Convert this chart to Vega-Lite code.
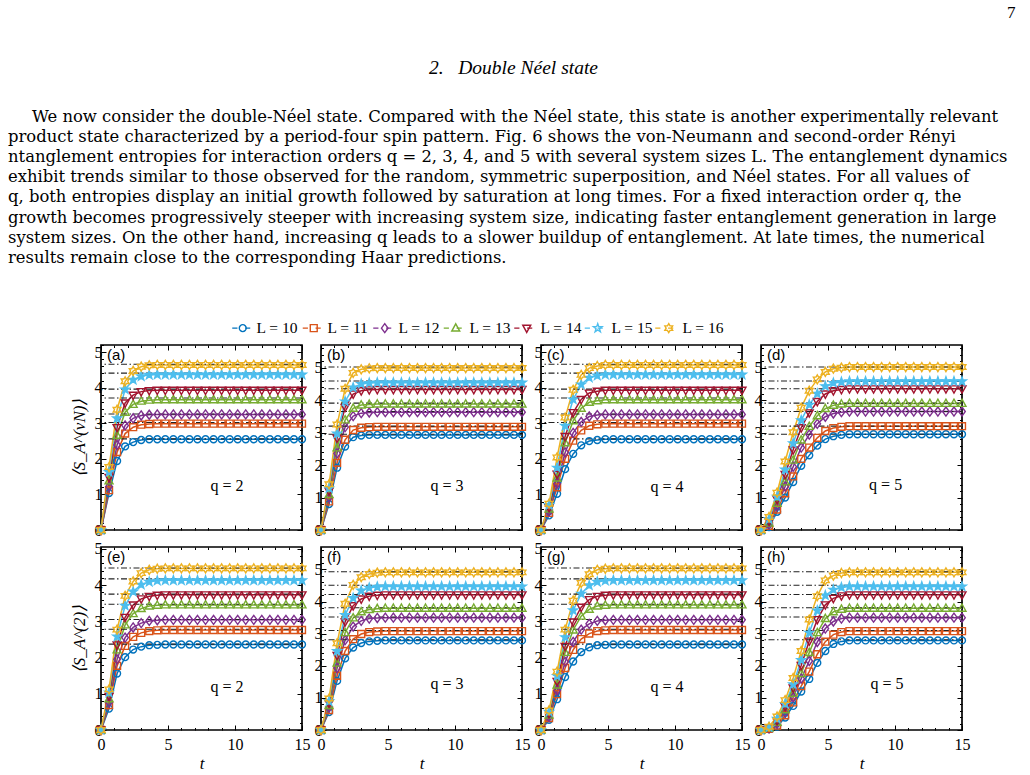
{
"$schema":"https://vega.github.io/schema/vega-lite/v6.json",
"background":"white",
"padding":{"left":8,"top":3,"right":0,"bottom":0},
"title":{"text":"7","anchor":"start","frame":"group","dx":906,"font":"Liberation Serif","fontSize":17,"fontWeight":"normal","color":"#000","offset":36},
"config":{
 "view":{"stroke":"#000","strokeWidth":1.7},
 "axis":{"domain":false,"grid":false,"labelFont":"Liberation Serif","labelFontSize":16,"labelColor":"#000","tickColor":"#000","tickWidth":1,"labelFlush":false,"labelOverlap":false,"titleFont":"Liberation Serif","titleFontSize":17,"titleFontStyle":"italic","titleFontWeight":"normal","titleColor":"#000"}
},
"datasets":{
"haar":[{"k":"ve","L":10,"H":2.56},{"k":"ve","L":11,"H":3.02},{"k":"ve","L":12,"H":3.26},{"k":"ve","L":13,"H":3.71},{"k":"ve","L":14,"H":3.96},{"k":"ve","L":15,"H":4.41},{"k":"ve","L":16,"H":4.66},
{"k":"vo","L":10,"H":2.95},{"k":"vo","L":11,"H":3.2},{"k":"vo","L":12,"H":3.65},{"k":"vo","L":13,"H":3.91},{"k":"vo","L":14,"H":4.35},{"k":"vo","L":15,"H":4.59},{"k":"vo","L":16,"H":5.02},
{"k":"re","L":10,"H":2.37},{"k":"re","L":11,"H":2.78},{"k":"re","L":12,"H":3.05},{"k":"re","L":13,"H":3.47},{"k":"re","L":14,"H":3.75},{"k":"re","L":15,"H":4.17},{"k":"re","L":16,"H":4.47},
{"k":"ro","L":10,"H":2.81},{"k":"ro","L":11,"H":3.1},{"k":"ro","L":12,"H":3.52},{"k":"ro","L":13,"H":3.81},{"k":"ro","L":14,"H":4.22},{"k":"ro","L":15,"H":4.51},{"k":"ro","L":16,"H":4.93}],
"a":[
{"L":10,"t":0,"S":0},{"L":10,"t":0.6,"S":1.04},{"L":10,"t":1.2,"S":1.94},{"L":10,"t":1.8,"S":2.35},{"L":10,"t":2.4,"S":2.47},{"L":10,"t":3,"S":2.53},{"L":10,"t":3.6,"S":2.55},{"L":10,"t":4.2,"S":2.55},{"L":10,"t":4.8,"S":2.55},{"L":10,"t":5.4,"S":2.55},{"L":10,"t":6,"S":2.55},{"L":10,"t":6.6,"S":2.55},{"L":10,"t":7.2,"S":2.55},{"L":10,"t":7.8,"S":2.55},{"L":10,"t":8.4,"S":2.55},{"L":10,"t":9,"S":2.55},{"L":10,"t":9.6,"S":2.55},{"L":10,"t":10.2,"S":2.55},{"L":10,"t":10.8,"S":2.55},{"L":10,"t":11.4,"S":2.55},{"L":10,"t":12,"S":2.55},{"L":10,"t":12.6,"S":2.55},{"L":10,"t":13.2,"S":2.55},{"L":10,"t":13.8,"S":2.55},{"L":10,"t":14.4,"S":2.55},{"L":10,"t":15,"S":2.55},
{"L":11,"t":0,"S":0},{"L":11,"t":0.6,"S":1.12},{"L":11,"t":1.2,"S":2.19},{"L":11,"t":1.8,"S":2.71},{"L":11,"t":2.4,"S":2.89},{"L":11,"t":3,"S":2.96},{"L":11,"t":3.6,"S":2.98},{"L":11,"t":4.2,"S":2.99},{"L":11,"t":4.8,"S":2.99},{"L":11,"t":5.4,"S":2.99},{"L":11,"t":6,"S":2.99},{"L":11,"t":6.6,"S":2.99},{"L":11,"t":7.2,"S":2.99},{"L":11,"t":7.8,"S":2.99},{"L":11,"t":8.4,"S":2.99},{"L":11,"t":9,"S":2.99},{"L":11,"t":9.6,"S":2.99},{"L":11,"t":10.2,"S":2.99},{"L":11,"t":10.8,"S":2.99},{"L":11,"t":11.4,"S":2.99},{"L":11,"t":12,"S":2.99},{"L":11,"t":12.6,"S":2.99},{"L":11,"t":13.2,"S":2.99},{"L":11,"t":13.8,"S":2.99},{"L":11,"t":14.4,"S":2.99},{"L":11,"t":15,"S":2.99},
{"L":12,"t":0,"S":0},{"L":12,"t":0.6,"S":1.22},{"L":12,"t":1.2,"S":2.39},{"L":12,"t":1.8,"S":2.94},{"L":12,"t":2.4,"S":3.14},{"L":12,"t":3,"S":3.22},{"L":12,"t":3.6,"S":3.24},{"L":12,"t":4.2,"S":3.25},{"L":12,"t":4.8,"S":3.25},{"L":12,"t":5.4,"S":3.25},{"L":12,"t":6,"S":3.25},{"L":12,"t":6.6,"S":3.25},{"L":12,"t":7.2,"S":3.25},{"L":12,"t":7.8,"S":3.25},{"L":12,"t":8.4,"S":3.25},{"L":12,"t":9,"S":3.25},{"L":12,"t":9.6,"S":3.25},{"L":12,"t":10.2,"S":3.25},{"L":12,"t":10.8,"S":3.25},{"L":12,"t":11.4,"S":3.25},{"L":12,"t":12,"S":3.25},{"L":12,"t":12.6,"S":3.25},{"L":12,"t":13.2,"S":3.25},{"L":12,"t":13.8,"S":3.25},{"L":12,"t":14.4,"S":3.25},{"L":12,"t":15,"S":3.25},
{"L":13,"t":0,"S":0},{"L":13,"t":0.6,"S":1.38},{"L":13,"t":1.2,"S":2.66},{"L":13,"t":1.8,"S":3.31},{"L":13,"t":2.4,"S":3.53},{"L":13,"t":3,"S":3.62},{"L":13,"t":3.6,"S":3.65},{"L":13,"t":4.2,"S":3.66},{"L":13,"t":4.8,"S":3.66},{"L":13,"t":5.4,"S":3.66},{"L":13,"t":6,"S":3.66},{"L":13,"t":6.6,"S":3.66},{"L":13,"t":7.2,"S":3.66},{"L":13,"t":7.8,"S":3.66},{"L":13,"t":8.4,"S":3.66},{"L":13,"t":9,"S":3.66},{"L":13,"t":9.6,"S":3.66},{"L":13,"t":10.2,"S":3.66},{"L":13,"t":10.8,"S":3.66},{"L":13,"t":11.4,"S":3.66},{"L":13,"t":12,"S":3.66},{"L":13,"t":12.6,"S":3.66},{"L":13,"t":13.2,"S":3.66},{"L":13,"t":13.8,"S":3.66},{"L":13,"t":14.4,"S":3.66},{"L":13,"t":15,"S":3.66},
{"L":14,"t":0,"S":0},{"L":14,"t":0.6,"S":1.48},{"L":14,"t":1.2,"S":2.88},{"L":14,"t":1.8,"S":3.57},{"L":14,"t":2.4,"S":3.79},{"L":14,"t":3,"S":3.89},{"L":14,"t":3.6,"S":3.92},{"L":14,"t":4.2,"S":3.93},{"L":14,"t":4.8,"S":3.93},{"L":14,"t":5.4,"S":3.93},{"L":14,"t":6,"S":3.93},{"L":14,"t":6.6,"S":3.93},{"L":14,"t":7.2,"S":3.93},{"L":14,"t":7.8,"S":3.93},{"L":14,"t":8.4,"S":3.93},{"L":14,"t":9,"S":3.93},{"L":14,"t":9.6,"S":3.93},{"L":14,"t":10.2,"S":3.93},{"L":14,"t":10.8,"S":3.93},{"L":14,"t":11.4,"S":3.93},{"L":14,"t":12,"S":3.93},{"L":14,"t":12.6,"S":3.93},{"L":14,"t":13.2,"S":3.93},{"L":14,"t":13.8,"S":3.93},{"L":14,"t":14.4,"S":3.93},{"L":14,"t":15,"S":3.93},
{"L":15,"t":0,"S":0},{"L":15,"t":0.6,"S":1.63},{"L":15,"t":1.2,"S":3.14},{"L":15,"t":1.8,"S":3.95},{"L":15,"t":2.4,"S":4.22},{"L":15,"t":3,"S":4.32},{"L":15,"t":3.6,"S":4.36},{"L":15,"t":4.2,"S":4.37},{"L":15,"t":4.8,"S":4.37},{"L":15,"t":5.4,"S":4.37},{"L":15,"t":6,"S":4.37},{"L":15,"t":6.6,"S":4.37},{"L":15,"t":7.2,"S":4.37},{"L":15,"t":7.8,"S":4.37},{"L":15,"t":8.4,"S":4.37},{"L":15,"t":9,"S":4.37},{"L":15,"t":9.6,"S":4.37},{"L":15,"t":10.2,"S":4.37},{"L":15,"t":10.8,"S":4.37},{"L":15,"t":11.4,"S":4.37},{"L":15,"t":12,"S":4.37},{"L":15,"t":12.6,"S":4.37},{"L":15,"t":13.2,"S":4.37},{"L":15,"t":13.8,"S":4.37},{"L":15,"t":14.4,"S":4.37},{"L":15,"t":15,"S":4.37},
{"L":16,"t":0,"S":0},{"L":16,"t":0.6,"S":1.77},{"L":16,"t":1.2,"S":3.38},{"L":16,"t":1.8,"S":4.18},{"L":16,"t":2.4,"S":4.47},{"L":16,"t":3,"S":4.59},{"L":16,"t":3.6,"S":4.63},{"L":16,"t":4.2,"S":4.64},{"L":16,"t":4.8,"S":4.64},{"L":16,"t":5.4,"S":4.64},{"L":16,"t":6,"S":4.64},{"L":16,"t":6.6,"S":4.64},{"L":16,"t":7.2,"S":4.64},{"L":16,"t":7.8,"S":4.64},{"L":16,"t":8.4,"S":4.64},{"L":16,"t":9,"S":4.64},{"L":16,"t":9.6,"S":4.64},{"L":16,"t":10.2,"S":4.64},{"L":16,"t":10.8,"S":4.64},{"L":16,"t":11.4,"S":4.64},{"L":16,"t":12,"S":4.64},{"L":16,"t":12.6,"S":4.64},{"L":16,"t":13.2,"S":4.64},{"L":16,"t":13.8,"S":4.64},{"L":16,"t":14.4,"S":4.64},{"L":16,"t":15,"S":4.64}],
"b":[
{"L":10,"t":0,"S":0},{"L":10,"t":0.6,"S":0.8},{"L":10,"t":1.2,"S":1.92},{"L":10,"t":1.8,"S":2.57},{"L":10,"t":2.4,"S":2.86},{"L":10,"t":3,"S":2.91},{"L":10,"t":3.6,"S":2.93},{"L":10,"t":4.2,"S":2.93},{"L":10,"t":4.8,"S":2.93},{"L":10,"t":5.4,"S":2.93},{"L":10,"t":6,"S":2.93},{"L":10,"t":6.6,"S":2.93},{"L":10,"t":7.2,"S":2.93},{"L":10,"t":7.8,"S":2.93},{"L":10,"t":8.4,"S":2.93},{"L":10,"t":9,"S":2.93},{"L":10,"t":9.6,"S":2.93},{"L":10,"t":10.2,"S":2.93},{"L":10,"t":10.8,"S":2.93},{"L":10,"t":11.4,"S":2.93},{"L":10,"t":12,"S":2.93},{"L":10,"t":12.6,"S":2.93},{"L":10,"t":13.2,"S":2.93},{"L":10,"t":13.8,"S":2.93},{"L":10,"t":14.4,"S":2.93},{"L":10,"t":15,"S":2.93},
{"L":11,"t":0,"S":0},{"L":11,"t":0.6,"S":0.88},{"L":11,"t":1.2,"S":2.07},{"L":11,"t":1.8,"S":2.78},{"L":11,"t":2.4,"S":3.08},{"L":11,"t":3,"S":3.15},{"L":11,"t":3.6,"S":3.17},{"L":11,"t":4.2,"S":3.18},{"L":11,"t":4.8,"S":3.18},{"L":11,"t":5.4,"S":3.18},{"L":11,"t":6,"S":3.18},{"L":11,"t":6.6,"S":3.18},{"L":11,"t":7.2,"S":3.18},{"L":11,"t":7.8,"S":3.18},{"L":11,"t":8.4,"S":3.18},{"L":11,"t":9,"S":3.18},{"L":11,"t":9.6,"S":3.18},{"L":11,"t":10.2,"S":3.18},{"L":11,"t":10.8,"S":3.18},{"L":11,"t":11.4,"S":3.18},{"L":11,"t":12,"S":3.18},{"L":11,"t":12.6,"S":3.18},{"L":11,"t":13.2,"S":3.18},{"L":11,"t":13.8,"S":3.18},{"L":11,"t":14.4,"S":3.18},{"L":11,"t":15,"S":3.18},
{"L":12,"t":0,"S":0},{"L":12,"t":0.6,"S":1.0},{"L":12,"t":1.2,"S":2.36},{"L":12,"t":1.8,"S":3.17},{"L":12,"t":2.4,"S":3.51},{"L":12,"t":3,"S":3.6},{"L":12,"t":3.6,"S":3.62},{"L":12,"t":4.2,"S":3.63},{"L":12,"t":4.8,"S":3.63},{"L":12,"t":5.4,"S":3.63},{"L":12,"t":6,"S":3.63},{"L":12,"t":6.6,"S":3.63},{"L":12,"t":7.2,"S":3.63},{"L":12,"t":7.8,"S":3.63},{"L":12,"t":8.4,"S":3.63},{"L":12,"t":9,"S":3.63},{"L":12,"t":9.6,"S":3.63},{"L":12,"t":10.2,"S":3.63},{"L":12,"t":10.8,"S":3.63},{"L":12,"t":11.4,"S":3.63},{"L":12,"t":12,"S":3.63},{"L":12,"t":12.6,"S":3.63},{"L":12,"t":13.2,"S":3.63},{"L":12,"t":13.8,"S":3.63},{"L":12,"t":14.4,"S":3.63},{"L":12,"t":15,"S":3.63},
{"L":13,"t":0,"S":0},{"L":13,"t":0.6,"S":1.09},{"L":13,"t":1.2,"S":2.53},{"L":13,"t":1.8,"S":3.39},{"L":13,"t":2.4,"S":3.75},{"L":13,"t":3,"S":3.85},{"L":13,"t":3.6,"S":3.87},{"L":13,"t":4.2,"S":3.88},{"L":13,"t":4.8,"S":3.88},{"L":13,"t":5.4,"S":3.88},{"L":13,"t":6,"S":3.88},{"L":13,"t":6.6,"S":3.88},{"L":13,"t":7.2,"S":3.88},{"L":13,"t":7.8,"S":3.88},{"L":13,"t":8.4,"S":3.88},{"L":13,"t":9,"S":3.88},{"L":13,"t":9.6,"S":3.88},{"L":13,"t":10.2,"S":3.88},{"L":13,"t":10.8,"S":3.88},{"L":13,"t":11.4,"S":3.88},{"L":13,"t":12,"S":3.88},{"L":13,"t":12.6,"S":3.88},{"L":13,"t":13.2,"S":3.88},{"L":13,"t":13.8,"S":3.88},{"L":13,"t":14.4,"S":3.88},{"L":13,"t":15,"S":3.88},
{"L":14,"t":0,"S":0},{"L":14,"t":0.6,"S":1.2},{"L":14,"t":1.2,"S":2.83},{"L":14,"t":1.8,"S":3.78},{"L":14,"t":2.4,"S":4.19},{"L":14,"t":3,"S":4.29},{"L":14,"t":3.6,"S":4.32},{"L":14,"t":4.2,"S":4.33},{"L":14,"t":4.8,"S":4.33},{"L":14,"t":5.4,"S":4.33},{"L":14,"t":6,"S":4.33},{"L":14,"t":6.6,"S":4.33},{"L":14,"t":7.2,"S":4.33},{"L":14,"t":7.8,"S":4.33},{"L":14,"t":8.4,"S":4.33},{"L":14,"t":9,"S":4.33},{"L":14,"t":9.6,"S":4.33},{"L":14,"t":10.2,"S":4.33},{"L":14,"t":10.8,"S":4.33},{"L":14,"t":11.4,"S":4.33},{"L":14,"t":12,"S":4.33},{"L":14,"t":12.6,"S":4.33},{"L":14,"t":13.2,"S":4.33},{"L":14,"t":13.8,"S":4.33},{"L":14,"t":14.4,"S":4.33},{"L":14,"t":15,"S":4.33},
{"L":15,"t":0,"S":0},{"L":15,"t":0.6,"S":1.28},{"L":15,"t":1.2,"S":2.97},{"L":15,"t":1.8,"S":3.96},{"L":15,"t":2.4,"S":4.39},{"L":15,"t":3,"S":4.5},{"L":15,"t":3.6,"S":4.53},{"L":15,"t":4.2,"S":4.54},{"L":15,"t":4.8,"S":4.54},{"L":15,"t":5.4,"S":4.54},{"L":15,"t":6,"S":4.54},{"L":15,"t":6.6,"S":4.54},{"L":15,"t":7.2,"S":4.54},{"L":15,"t":7.8,"S":4.54},{"L":15,"t":8.4,"S":4.54},{"L":15,"t":9,"S":4.54},{"L":15,"t":9.6,"S":4.54},{"L":15,"t":10.2,"S":4.54},{"L":15,"t":10.8,"S":4.54},{"L":15,"t":11.4,"S":4.54},{"L":15,"t":12,"S":4.54},{"L":15,"t":12.6,"S":4.54},{"L":15,"t":13.2,"S":4.54},{"L":15,"t":13.8,"S":4.54},{"L":15,"t":14.4,"S":4.54},{"L":15,"t":15,"S":4.54},
{"L":16,"t":0,"S":0},{"L":16,"t":0.6,"S":1.41},{"L":16,"t":1.2,"S":3.25},{"L":16,"t":1.8,"S":4.35},{"L":16,"t":2.4,"S":4.84},{"L":16,"t":3,"S":4.95},{"L":16,"t":3.6,"S":4.98},{"L":16,"t":4.2,"S":4.99},{"L":16,"t":4.8,"S":4.99},{"L":16,"t":5.4,"S":4.99},{"L":16,"t":6,"S":4.99},{"L":16,"t":6.6,"S":4.99},{"L":16,"t":7.2,"S":4.99},{"L":16,"t":7.8,"S":4.99},{"L":16,"t":8.4,"S":4.99},{"L":16,"t":9,"S":4.99},{"L":16,"t":9.6,"S":4.99},{"L":16,"t":10.2,"S":4.99},{"L":16,"t":10.8,"S":4.99},{"L":16,"t":11.4,"S":4.99},{"L":16,"t":12,"S":4.99},{"L":16,"t":12.6,"S":4.99},{"L":16,"t":13.2,"S":4.99},{"L":16,"t":13.8,"S":4.99},{"L":16,"t":14.4,"S":4.99},{"L":16,"t":15,"S":4.99}],
"c":[
{"L":10,"t":0,"S":0},{"L":10,"t":0.6,"S":0.41},{"L":10,"t":1.2,"S":1.02},{"L":10,"t":1.8,"S":1.71},{"L":10,"t":2.4,"S":2.14},{"L":10,"t":3,"S":2.38},{"L":10,"t":3.6,"S":2.5},{"L":10,"t":4.2,"S":2.53},{"L":10,"t":4.8,"S":2.55},{"L":10,"t":5.4,"S":2.55},{"L":10,"t":6,"S":2.55},{"L":10,"t":6.6,"S":2.55},{"L":10,"t":7.2,"S":2.55},{"L":10,"t":7.8,"S":2.55},{"L":10,"t":8.4,"S":2.55},{"L":10,"t":9,"S":2.55},{"L":10,"t":9.6,"S":2.55},{"L":10,"t":10.2,"S":2.55},{"L":10,"t":10.8,"S":2.55},{"L":10,"t":11.4,"S":2.55},{"L":10,"t":12,"S":2.55},{"L":10,"t":12.6,"S":2.55},{"L":10,"t":13.2,"S":2.55},{"L":10,"t":13.8,"S":2.55},{"L":10,"t":14.4,"S":2.55},{"L":10,"t":15,"S":2.55},
{"L":11,"t":0,"S":0},{"L":11,"t":0.6,"S":0.48},{"L":11,"t":1.2,"S":1.2},{"L":11,"t":1.8,"S":2.0},{"L":11,"t":2.4,"S":2.51},{"L":11,"t":3,"S":2.8},{"L":11,"t":3.6,"S":2.93},{"L":11,"t":4.2,"S":2.97},{"L":11,"t":4.8,"S":2.99},{"L":11,"t":5.4,"S":2.99},{"L":11,"t":6,"S":2.99},{"L":11,"t":6.6,"S":2.99},{"L":11,"t":7.2,"S":2.99},{"L":11,"t":7.8,"S":2.99},{"L":11,"t":8.4,"S":2.99},{"L":11,"t":9,"S":2.99},{"L":11,"t":9.6,"S":2.99},{"L":11,"t":10.2,"S":2.99},{"L":11,"t":10.8,"S":2.99},{"L":11,"t":11.4,"S":2.99},{"L":11,"t":12,"S":2.99},{"L":11,"t":12.6,"S":2.99},{"L":11,"t":13.2,"S":2.99},{"L":11,"t":13.8,"S":2.99},{"L":11,"t":14.4,"S":2.99},{"L":11,"t":15,"S":2.99},
{"L":12,"t":0,"S":0},{"L":12,"t":0.6,"S":0.52},{"L":12,"t":1.2,"S":1.3},{"L":12,"t":1.8,"S":2.18},{"L":12,"t":2.4,"S":2.73},{"L":12,"t":3,"S":3.04},{"L":12,"t":3.6,"S":3.19},{"L":12,"t":4.2,"S":3.23},{"L":12,"t":4.8,"S":3.25},{"L":12,"t":5.4,"S":3.25},{"L":12,"t":6,"S":3.25},{"L":12,"t":6.6,"S":3.25},{"L":12,"t":7.2,"S":3.25},{"L":12,"t":7.8,"S":3.25},{"L":12,"t":8.4,"S":3.25},{"L":12,"t":9,"S":3.25},{"L":12,"t":9.6,"S":3.25},{"L":12,"t":10.2,"S":3.25},{"L":12,"t":10.8,"S":3.25},{"L":12,"t":11.4,"S":3.25},{"L":12,"t":12,"S":3.25},{"L":12,"t":12.6,"S":3.25},{"L":12,"t":13.2,"S":3.25},{"L":12,"t":13.8,"S":3.25},{"L":12,"t":14.4,"S":3.25},{"L":12,"t":15,"S":3.25},
{"L":13,"t":0,"S":0},{"L":13,"t":0.6,"S":0.59},{"L":13,"t":1.2,"S":1.46},{"L":13,"t":1.8,"S":2.45},{"L":13,"t":2.4,"S":3.07},{"L":13,"t":3,"S":3.42},{"L":13,"t":3.6,"S":3.59},{"L":13,"t":4.2,"S":3.63},{"L":13,"t":4.8,"S":3.66},{"L":13,"t":5.4,"S":3.66},{"L":13,"t":6,"S":3.66},{"L":13,"t":6.6,"S":3.66},{"L":13,"t":7.2,"S":3.66},{"L":13,"t":7.8,"S":3.66},{"L":13,"t":8.4,"S":3.66},{"L":13,"t":9,"S":3.66},{"L":13,"t":9.6,"S":3.66},{"L":13,"t":10.2,"S":3.66},{"L":13,"t":10.8,"S":3.66},{"L":13,"t":11.4,"S":3.66},{"L":13,"t":12,"S":3.66},{"L":13,"t":12.6,"S":3.66},{"L":13,"t":13.2,"S":3.66},{"L":13,"t":13.8,"S":3.66},{"L":13,"t":14.4,"S":3.66},{"L":13,"t":15,"S":3.66},
{"L":14,"t":0,"S":0},{"L":14,"t":0.6,"S":0.63},{"L":14,"t":1.2,"S":1.57},{"L":14,"t":1.8,"S":2.63},{"L":14,"t":2.4,"S":3.3},{"L":14,"t":3,"S":3.67},{"L":14,"t":3.6,"S":3.85},{"L":14,"t":4.2,"S":3.9},{"L":14,"t":4.8,"S":3.93},{"L":14,"t":5.4,"S":3.93},{"L":14,"t":6,"S":3.93},{"L":14,"t":6.6,"S":3.93},{"L":14,"t":7.2,"S":3.93},{"L":14,"t":7.8,"S":3.93},{"L":14,"t":8.4,"S":3.93},{"L":14,"t":9,"S":3.93},{"L":14,"t":9.6,"S":3.93},{"L":14,"t":10.2,"S":3.93},{"L":14,"t":10.8,"S":3.93},{"L":14,"t":11.4,"S":3.93},{"L":14,"t":12,"S":3.93},{"L":14,"t":12.6,"S":3.93},{"L":14,"t":13.2,"S":3.93},{"L":14,"t":13.8,"S":3.93},{"L":14,"t":14.4,"S":3.93},{"L":14,"t":15,"S":3.93},
{"L":15,"t":0,"S":0},{"L":15,"t":0.6,"S":0.7},{"L":15,"t":1.2,"S":1.75},{"L":15,"t":1.8,"S":2.93},{"L":15,"t":2.4,"S":3.67},{"L":15,"t":3,"S":4.09},{"L":15,"t":3.6,"S":4.28},{"L":15,"t":4.2,"S":4.34},{"L":15,"t":4.8,"S":4.37},{"L":15,"t":5.4,"S":4.37},{"L":15,"t":6,"S":4.37},{"L":15,"t":6.6,"S":4.37},{"L":15,"t":7.2,"S":4.37},{"L":15,"t":7.8,"S":4.37},{"L":15,"t":8.4,"S":4.37},{"L":15,"t":9,"S":4.37},{"L":15,"t":9.6,"S":4.37},{"L":15,"t":10.2,"S":4.37},{"L":15,"t":10.8,"S":4.37},{"L":15,"t":11.4,"S":4.37},{"L":15,"t":12,"S":4.37},{"L":15,"t":12.6,"S":4.37},{"L":15,"t":13.2,"S":4.37},{"L":15,"t":13.8,"S":4.37},{"L":15,"t":14.4,"S":4.37},{"L":15,"t":15,"S":4.37},
{"L":16,"t":0,"S":0},{"L":16,"t":0.6,"S":0.74},{"L":16,"t":1.2,"S":2.04},{"L":16,"t":1.8,"S":3.16},{"L":16,"t":2.4,"S":3.94},{"L":16,"t":3,"S":4.36},{"L":16,"t":3.6,"S":4.55},{"L":16,"t":4.2,"S":4.61},{"L":16,"t":4.8,"S":4.64},{"L":16,"t":5.4,"S":4.64},{"L":16,"t":6,"S":4.64},{"L":16,"t":6.6,"S":4.64},{"L":16,"t":7.2,"S":4.64},{"L":16,"t":7.8,"S":4.64},{"L":16,"t":8.4,"S":4.64},{"L":16,"t":9,"S":4.64},{"L":16,"t":9.6,"S":4.64},{"L":16,"t":10.2,"S":4.64},{"L":16,"t":10.8,"S":4.64},{"L":16,"t":11.4,"S":4.64},{"L":16,"t":12,"S":4.64},{"L":16,"t":12.6,"S":4.64},{"L":16,"t":13.2,"S":4.64},{"L":16,"t":13.8,"S":4.64},{"L":16,"t":14.4,"S":4.64},{"L":16,"t":15,"S":4.64}],
"d":[
{"L":10,"t":0,"S":0},{"L":10,"t":0.6,"S":0.09},{"L":10,"t":1.2,"S":0.56},{"L":10,"t":1.8,"S":1.0},{"L":10,"t":2.4,"S":1.48},{"L":10,"t":3,"S":1.98},{"L":10,"t":3.6,"S":2.3},{"L":10,"t":4.2,"S":2.6},{"L":10,"t":4.8,"S":2.8},{"L":10,"t":5.4,"S":2.89},{"L":10,"t":6,"S":2.93},{"L":10,"t":6.6,"S":2.95},{"L":10,"t":7.2,"S":2.95},{"L":10,"t":7.8,"S":2.95},{"L":10,"t":8.4,"S":2.95},{"L":10,"t":9,"S":2.95},{"L":10,"t":9.6,"S":2.95},{"L":10,"t":10.2,"S":2.95},{"L":10,"t":10.8,"S":2.95},{"L":10,"t":11.4,"S":2.95},{"L":10,"t":12,"S":2.95},{"L":10,"t":12.6,"S":2.95},{"L":10,"t":13.2,"S":2.95},{"L":10,"t":13.8,"S":2.95},{"L":10,"t":14.4,"S":2.95},{"L":10,"t":15,"S":2.95},
{"L":11,"t":0,"S":0},{"L":11,"t":0.6,"S":0.13},{"L":11,"t":1.2,"S":0.63},{"L":11,"t":1.8,"S":1.13},{"L":11,"t":2.4,"S":1.65},{"L":11,"t":3,"S":2.19},{"L":11,"t":3.6,"S":2.54},{"L":11,"t":4.2,"S":2.84},{"L":11,"t":4.8,"S":3.05},{"L":11,"t":5.4,"S":3.14},{"L":11,"t":6,"S":3.18},{"L":11,"t":6.6,"S":3.2},{"L":11,"t":7.2,"S":3.2},{"L":11,"t":7.8,"S":3.2},{"L":11,"t":8.4,"S":3.2},{"L":11,"t":9,"S":3.2},{"L":11,"t":9.6,"S":3.2},{"L":11,"t":10.2,"S":3.2},{"L":11,"t":10.8,"S":3.2},{"L":11,"t":11.4,"S":3.2},{"L":11,"t":12,"S":3.2},{"L":11,"t":12.6,"S":3.2},{"L":11,"t":13.2,"S":3.2},{"L":11,"t":13.8,"S":3.2},{"L":11,"t":14.4,"S":3.2},{"L":11,"t":15,"S":3.2},
{"L":12,"t":0,"S":0},{"L":12,"t":0.6,"S":0.17},{"L":12,"t":1.2,"S":0.74},{"L":12,"t":1.8,"S":1.34},{"L":12,"t":2.4,"S":1.95},{"L":12,"t":3,"S":2.54},{"L":12,"t":3.6,"S":2.94},{"L":12,"t":4.2,"S":3.27},{"L":12,"t":4.8,"S":3.49},{"L":12,"t":5.4,"S":3.59},{"L":12,"t":6,"S":3.63},{"L":12,"t":6.6,"S":3.65},{"L":12,"t":7.2,"S":3.65},{"L":12,"t":7.8,"S":3.65},{"L":12,"t":8.4,"S":3.65},{"L":12,"t":9,"S":3.65},{"L":12,"t":9.6,"S":3.65},{"L":12,"t":10.2,"S":3.65},{"L":12,"t":10.8,"S":3.65},{"L":12,"t":11.4,"S":3.65},{"L":12,"t":12,"S":3.65},{"L":12,"t":12.6,"S":3.65},{"L":12,"t":13.2,"S":3.65},{"L":12,"t":13.8,"S":3.65},{"L":12,"t":14.4,"S":3.65},{"L":12,"t":15,"S":3.65},
{"L":13,"t":0,"S":0},{"L":13,"t":0.6,"S":0.21},{"L":13,"t":1.2,"S":0.82},{"L":13,"t":1.8,"S":1.48},{"L":13,"t":2.4,"S":2.15},{"L":13,"t":3,"S":2.77},{"L":13,"t":3.6,"S":3.19},{"L":13,"t":4.2,"S":3.52},{"L":13,"t":4.8,"S":3.74},{"L":13,"t":5.4,"S":3.84},{"L":13,"t":6,"S":3.88},{"L":13,"t":6.6,"S":3.9},{"L":13,"t":7.2,"S":3.9},{"L":13,"t":7.8,"S":3.9},{"L":13,"t":8.4,"S":3.9},{"L":13,"t":9,"S":3.9},{"L":13,"t":9.6,"S":3.9},{"L":13,"t":10.2,"S":3.9},{"L":13,"t":10.8,"S":3.9},{"L":13,"t":11.4,"S":3.9},{"L":13,"t":12,"S":3.9},{"L":13,"t":12.6,"S":3.9},{"L":13,"t":13.2,"S":3.9},{"L":13,"t":13.8,"S":3.9},{"L":13,"t":14.4,"S":3.9},{"L":13,"t":15,"S":3.9},
{"L":14,"t":0,"S":0},{"L":14,"t":0.6,"S":0.27},{"L":14,"t":1.2,"S":0.94},{"L":14,"t":1.8,"S":1.71},{"L":14,"t":2.4,"S":2.47},{"L":14,"t":3,"S":3.15},{"L":14,"t":3.6,"S":3.61},{"L":14,"t":4.2,"S":3.96},{"L":14,"t":4.8,"S":4.19},{"L":14,"t":5.4,"S":4.29},{"L":14,"t":6,"S":4.33},{"L":14,"t":6.6,"S":4.35},{"L":14,"t":7.2,"S":4.35},{"L":14,"t":7.8,"S":4.35},{"L":14,"t":8.4,"S":4.35},{"L":14,"t":9,"S":4.35},{"L":14,"t":9.6,"S":4.35},{"L":14,"t":10.2,"S":4.35},{"L":14,"t":10.8,"S":4.35},{"L":14,"t":11.4,"S":4.35},{"L":14,"t":12,"S":4.35},{"L":14,"t":12.6,"S":4.35},{"L":14,"t":13.2,"S":4.35},{"L":14,"t":13.8,"S":4.35},{"L":14,"t":14.4,"S":4.35},{"L":14,"t":15,"S":4.35},
{"L":15,"t":0,"S":0},{"L":15,"t":0.6,"S":0.33},{"L":15,"t":1.2,"S":1.02},{"L":15,"t":1.8,"S":1.86},{"L":15,"t":2.4,"S":2.67},{"L":15,"t":3,"S":3.38},{"L":15,"t":3.6,"S":3.86},{"L":15,"t":4.2,"S":4.2},{"L":15,"t":4.8,"S":4.43},{"L":15,"t":5.4,"S":4.53},{"L":15,"t":6,"S":4.56},{"L":15,"t":6.6,"S":4.58},{"L":15,"t":7.2,"S":4.58},{"L":15,"t":7.8,"S":4.58},{"L":15,"t":8.4,"S":4.58},{"L":15,"t":9,"S":4.58},{"L":15,"t":9.6,"S":4.58},{"L":15,"t":10.2,"S":4.58},{"L":15,"t":10.8,"S":4.58},{"L":15,"t":11.4,"S":4.58},{"L":15,"t":12,"S":4.58},{"L":15,"t":12.6,"S":4.58},{"L":15,"t":13.2,"S":4.58},{"L":15,"t":13.8,"S":4.58},{"L":15,"t":14.4,"S":4.58},{"L":15,"t":15,"S":4.58},
{"L":16,"t":0,"S":0},{"L":16,"t":0.6,"S":0.4},{"L":16,"t":1.2,"S":1.15},{"L":16,"t":1.8,"S":2.11},{"L":16,"t":2.4,"S":3.01},{"L":16,"t":3,"S":3.77},{"L":16,"t":3.6,"S":4.29},{"L":16,"t":4.2,"S":4.64},{"L":16,"t":4.8,"S":4.87},{"L":16,"t":5.4,"S":4.97},{"L":16,"t":6,"S":5.0},{"L":16,"t":6.6,"S":5.02},{"L":16,"t":7.2,"S":5.02},{"L":16,"t":7.8,"S":5.02},{"L":16,"t":8.4,"S":5.02},{"L":16,"t":9,"S":5.02},{"L":16,"t":9.6,"S":5.02},{"L":16,"t":10.2,"S":5.02},{"L":16,"t":10.8,"S":5.02},{"L":16,"t":11.4,"S":5.02},{"L":16,"t":12,"S":5.02},{"L":16,"t":12.6,"S":5.02},{"L":16,"t":13.2,"S":5.02},{"L":16,"t":13.8,"S":5.02},{"L":16,"t":14.4,"S":5.02},{"L":16,"t":15,"S":5.02}],
"e":[
{"L":10,"t":0,"S":0},{"L":10,"t":0.6,"S":0.59},{"L":10,"t":1.2,"S":1.56},{"L":10,"t":1.8,"S":2.01},{"L":10,"t":2.4,"S":2.22},{"L":10,"t":3,"S":2.3},{"L":10,"t":3.6,"S":2.34},{"L":10,"t":4.2,"S":2.35},{"L":10,"t":4.8,"S":2.36},{"L":10,"t":5.4,"S":2.36},{"L":10,"t":6,"S":2.36},{"L":10,"t":6.6,"S":2.36},{"L":10,"t":7.2,"S":2.36},{"L":10,"t":7.8,"S":2.36},{"L":10,"t":8.4,"S":2.36},{"L":10,"t":9,"S":2.36},{"L":10,"t":9.6,"S":2.36},{"L":10,"t":10.2,"S":2.36},{"L":10,"t":10.8,"S":2.36},{"L":10,"t":11.4,"S":2.36},{"L":10,"t":12,"S":2.36},{"L":10,"t":12.6,"S":2.36},{"L":10,"t":13.2,"S":2.36},{"L":10,"t":13.8,"S":2.36},{"L":10,"t":14.4,"S":2.36},{"L":10,"t":15,"S":2.36},
{"L":11,"t":0,"S":0},{"L":11,"t":0.6,"S":0.69},{"L":11,"t":1.2,"S":1.77},{"L":11,"t":1.8,"S":2.32},{"L":11,"t":2.4,"S":2.57},{"L":11,"t":3,"S":2.68},{"L":11,"t":3.6,"S":2.73},{"L":11,"t":4.2,"S":2.75},{"L":11,"t":4.8,"S":2.76},{"L":11,"t":5.4,"S":2.76},{"L":11,"t":6,"S":2.76},{"L":11,"t":6.6,"S":2.76},{"L":11,"t":7.2,"S":2.76},{"L":11,"t":7.8,"S":2.76},{"L":11,"t":8.4,"S":2.76},{"L":11,"t":9,"S":2.76},{"L":11,"t":9.6,"S":2.76},{"L":11,"t":10.2,"S":2.76},{"L":11,"t":10.8,"S":2.76},{"L":11,"t":11.4,"S":2.76},{"L":11,"t":12,"S":2.76},{"L":11,"t":12.6,"S":2.76},{"L":11,"t":13.2,"S":2.76},{"L":11,"t":13.8,"S":2.76},{"L":11,"t":14.4,"S":2.76},{"L":11,"t":15,"S":2.76},
{"L":12,"t":0,"S":0},{"L":12,"t":0.6,"S":0.76},{"L":12,"t":1.2,"S":1.95},{"L":12,"t":1.8,"S":2.55},{"L":12,"t":2.4,"S":2.83},{"L":12,"t":3,"S":2.95},{"L":12,"t":3.6,"S":3.01},{"L":12,"t":4.2,"S":3.03},{"L":12,"t":4.8,"S":3.04},{"L":12,"t":5.4,"S":3.04},{"L":12,"t":6,"S":3.04},{"L":12,"t":6.6,"S":3.04},{"L":12,"t":7.2,"S":3.04},{"L":12,"t":7.8,"S":3.04},{"L":12,"t":8.4,"S":3.04},{"L":12,"t":9,"S":3.04},{"L":12,"t":9.6,"S":3.04},{"L":12,"t":10.2,"S":3.04},{"L":12,"t":10.8,"S":3.04},{"L":12,"t":11.4,"S":3.04},{"L":12,"t":12,"S":3.04},{"L":12,"t":12.6,"S":3.04},{"L":12,"t":13.2,"S":3.04},{"L":12,"t":13.8,"S":3.04},{"L":12,"t":14.4,"S":3.04},{"L":12,"t":15,"S":3.04},
{"L":13,"t":0,"S":0},{"L":13,"t":0.6,"S":0.86},{"L":13,"t":1.2,"S":2.21},{"L":13,"t":1.8,"S":2.9},{"L":13,"t":2.4,"S":3.21},{"L":13,"t":3,"S":3.35},{"L":13,"t":3.6,"S":3.42},{"L":13,"t":4.2,"S":3.44},{"L":13,"t":4.8,"S":3.45},{"L":13,"t":5.4,"S":3.45},{"L":13,"t":6,"S":3.45},{"L":13,"t":6.6,"S":3.45},{"L":13,"t":7.2,"S":3.45},{"L":13,"t":7.8,"S":3.45},{"L":13,"t":8.4,"S":3.45},{"L":13,"t":9,"S":3.45},{"L":13,"t":9.6,"S":3.45},{"L":13,"t":10.2,"S":3.45},{"L":13,"t":10.8,"S":3.45},{"L":13,"t":11.4,"S":3.45},{"L":13,"t":12,"S":3.45},{"L":13,"t":12.6,"S":3.45},{"L":13,"t":13.2,"S":3.45},{"L":13,"t":13.8,"S":3.45},{"L":13,"t":14.4,"S":3.45},{"L":13,"t":15,"S":3.45},
{"L":14,"t":0,"S":0},{"L":14,"t":0.6,"S":0.93},{"L":14,"t":1.2,"S":2.35},{"L":14,"t":1.8,"S":3.11},{"L":14,"t":2.4,"S":3.45},{"L":14,"t":3,"S":3.62},{"L":14,"t":3.6,"S":3.69},{"L":14,"t":4.2,"S":3.72},{"L":14,"t":4.8,"S":3.73},{"L":14,"t":5.4,"S":3.73},{"L":14,"t":6,"S":3.73},{"L":14,"t":6.6,"S":3.73},{"L":14,"t":7.2,"S":3.73},{"L":14,"t":7.8,"S":3.73},{"L":14,"t":8.4,"S":3.73},{"L":14,"t":9,"S":3.73},{"L":14,"t":9.6,"S":3.73},{"L":14,"t":10.2,"S":3.73},{"L":14,"t":10.8,"S":3.73},{"L":14,"t":11.4,"S":3.73},{"L":14,"t":12,"S":3.73},{"L":14,"t":12.6,"S":3.73},{"L":14,"t":13.2,"S":3.73},{"L":14,"t":13.8,"S":3.73},{"L":14,"t":14.4,"S":3.73},{"L":14,"t":15,"S":3.73},
{"L":15,"t":0,"S":0},{"L":15,"t":0.6,"S":1.03},{"L":15,"t":1.2,"S":2.58},{"L":15,"t":1.8,"S":3.43},{"L":15,"t":2.4,"S":3.82},{"L":15,"t":3,"S":4.01},{"L":15,"t":3.6,"S":4.09},{"L":15,"t":4.2,"S":4.12},{"L":15,"t":4.8,"S":4.13},{"L":15,"t":5.4,"S":4.13},{"L":15,"t":6,"S":4.13},{"L":15,"t":6.6,"S":4.13},{"L":15,"t":7.2,"S":4.13},{"L":15,"t":7.8,"S":4.13},{"L":15,"t":8.4,"S":4.13},{"L":15,"t":9,"S":4.13},{"L":15,"t":9.6,"S":4.13},{"L":15,"t":10.2,"S":4.13},{"L":15,"t":10.8,"S":4.13},{"L":15,"t":11.4,"S":4.13},{"L":15,"t":12,"S":4.13},{"L":15,"t":12.6,"S":4.13},{"L":15,"t":13.2,"S":4.13},{"L":15,"t":13.8,"S":4.13},{"L":15,"t":14.4,"S":4.13},{"L":15,"t":15,"S":4.13},
{"L":16,"t":0,"S":0},{"L":16,"t":0.6,"S":1.12},{"L":16,"t":1.2,"S":2.77},{"L":16,"t":1.8,"S":3.7},{"L":16,"t":2.4,"S":4.1},{"L":16,"t":3,"S":4.33},{"L":16,"t":3.6,"S":4.42},{"L":16,"t":4.2,"S":4.45},{"L":16,"t":4.8,"S":4.46},{"L":16,"t":5.4,"S":4.46},{"L":16,"t":6,"S":4.46},{"L":16,"t":6.6,"S":4.46},{"L":16,"t":7.2,"S":4.46},{"L":16,"t":7.8,"S":4.46},{"L":16,"t":8.4,"S":4.46},{"L":16,"t":9,"S":4.46},{"L":16,"t":9.6,"S":4.46},{"L":16,"t":10.2,"S":4.46},{"L":16,"t":10.8,"S":4.46},{"L":16,"t":11.4,"S":4.46},{"L":16,"t":12,"S":4.46},{"L":16,"t":12.6,"S":4.46},{"L":16,"t":13.2,"S":4.46},{"L":16,"t":13.8,"S":4.46},{"L":16,"t":14.4,"S":4.46},{"L":16,"t":15,"S":4.46}],
"f":[
{"L":10,"t":0,"S":0},{"L":10,"t":0.6,"S":0.56},{"L":10,"t":1.2,"S":1.53},{"L":10,"t":1.8,"S":2.23},{"L":10,"t":2.4,"S":2.57},{"L":10,"t":3,"S":2.71},{"L":10,"t":3.6,"S":2.76},{"L":10,"t":4.2,"S":2.78},{"L":10,"t":4.8,"S":2.79},{"L":10,"t":5.4,"S":2.79},{"L":10,"t":6,"S":2.79},{"L":10,"t":6.6,"S":2.79},{"L":10,"t":7.2,"S":2.79},{"L":10,"t":7.8,"S":2.79},{"L":10,"t":8.4,"S":2.79},{"L":10,"t":9,"S":2.79},{"L":10,"t":9.6,"S":2.79},{"L":10,"t":10.2,"S":2.79},{"L":10,"t":10.8,"S":2.79},{"L":10,"t":11.4,"S":2.79},{"L":10,"t":12,"S":2.79},{"L":10,"t":12.6,"S":2.79},{"L":10,"t":13.2,"S":2.79},{"L":10,"t":13.8,"S":2.79},{"L":10,"t":14.4,"S":2.79},{"L":10,"t":15,"S":2.79},
{"L":11,"t":0,"S":0},{"L":11,"t":0.6,"S":0.62},{"L":11,"t":1.2,"S":1.69},{"L":11,"t":1.8,"S":2.46},{"L":11,"t":2.4,"S":2.83},{"L":11,"t":3,"S":2.99},{"L":11,"t":3.6,"S":3.05},{"L":11,"t":4.2,"S":3.07},{"L":11,"t":4.8,"S":3.08},{"L":11,"t":5.4,"S":3.08},{"L":11,"t":6,"S":3.08},{"L":11,"t":6.6,"S":3.08},{"L":11,"t":7.2,"S":3.08},{"L":11,"t":7.8,"S":3.08},{"L":11,"t":8.4,"S":3.08},{"L":11,"t":9,"S":3.08},{"L":11,"t":9.6,"S":3.08},{"L":11,"t":10.2,"S":3.08},{"L":11,"t":10.8,"S":3.08},{"L":11,"t":11.4,"S":3.08},{"L":11,"t":12,"S":3.08},{"L":11,"t":12.6,"S":3.08},{"L":11,"t":13.2,"S":3.08},{"L":11,"t":13.8,"S":3.08},{"L":11,"t":14.4,"S":3.08},{"L":11,"t":15,"S":3.08},
{"L":12,"t":0,"S":0},{"L":12,"t":0.6,"S":0.7},{"L":12,"t":1.2,"S":1.93},{"L":12,"t":1.8,"S":2.8},{"L":12,"t":2.4,"S":3.22},{"L":12,"t":3,"S":3.4},{"L":12,"t":3.6,"S":3.47},{"L":12,"t":4.2,"S":3.49},{"L":12,"t":4.8,"S":3.5},{"L":12,"t":5.4,"S":3.5},{"L":12,"t":6,"S":3.5},{"L":12,"t":6.6,"S":3.5},{"L":12,"t":7.2,"S":3.5},{"L":12,"t":7.8,"S":3.5},{"L":12,"t":8.4,"S":3.5},{"L":12,"t":9,"S":3.5},{"L":12,"t":9.6,"S":3.5},{"L":12,"t":10.2,"S":3.5},{"L":12,"t":10.8,"S":3.5},{"L":12,"t":11.4,"S":3.5},{"L":12,"t":12,"S":3.5},{"L":12,"t":12.6,"S":3.5},{"L":12,"t":13.2,"S":3.5},{"L":12,"t":13.8,"S":3.5},{"L":12,"t":14.4,"S":3.5},{"L":12,"t":15,"S":3.5},
{"L":13,"t":0,"S":0},{"L":13,"t":0.6,"S":0.76},{"L":13,"t":1.2,"S":2.08},{"L":13,"t":1.8,"S":3.03},{"L":13,"t":2.4,"S":3.49},{"L":13,"t":3,"S":3.68},{"L":13,"t":3.6,"S":3.75},{"L":13,"t":4.2,"S":3.78},{"L":13,"t":4.8,"S":3.79},{"L":13,"t":5.4,"S":3.79},{"L":13,"t":6,"S":3.79},{"L":13,"t":6.6,"S":3.79},{"L":13,"t":7.2,"S":3.79},{"L":13,"t":7.8,"S":3.79},{"L":13,"t":8.4,"S":3.79},{"L":13,"t":9,"S":3.79},{"L":13,"t":9.6,"S":3.79},{"L":13,"t":10.2,"S":3.79},{"L":13,"t":10.8,"S":3.79},{"L":13,"t":11.4,"S":3.79},{"L":13,"t":12,"S":3.79},{"L":13,"t":12.6,"S":3.79},{"L":13,"t":13.2,"S":3.79},{"L":13,"t":13.8,"S":3.79},{"L":13,"t":14.4,"S":3.79},{"L":13,"t":15,"S":3.79},
{"L":14,"t":0,"S":0},{"L":14,"t":0.6,"S":0.84},{"L":14,"t":1.2,"S":2.32},{"L":14,"t":1.8,"S":3.37},{"L":14,"t":2.4,"S":3.87},{"L":14,"t":3,"S":4.08},{"L":14,"t":3.6,"S":4.17},{"L":14,"t":4.2,"S":4.2},{"L":14,"t":4.8,"S":4.21},{"L":14,"t":5.4,"S":4.21},{"L":14,"t":6,"S":4.21},{"L":14,"t":6.6,"S":4.21},{"L":14,"t":7.2,"S":4.21},{"L":14,"t":7.8,"S":4.21},{"L":14,"t":8.4,"S":4.21},{"L":14,"t":9,"S":4.21},{"L":14,"t":9.6,"S":4.21},{"L":14,"t":10.2,"S":4.21},{"L":14,"t":10.8,"S":4.21},{"L":14,"t":11.4,"S":4.21},{"L":14,"t":12,"S":4.21},{"L":14,"t":12.6,"S":4.21},{"L":14,"t":13.2,"S":4.21},{"L":14,"t":13.8,"S":4.21},{"L":14,"t":14.4,"S":4.21},{"L":14,"t":15,"S":4.21},
{"L":15,"t":0,"S":0},{"L":15,"t":0.6,"S":0.89},{"L":15,"t":1.2,"S":2.46},{"L":15,"t":1.8,"S":3.58},{"L":15,"t":2.4,"S":4.11},{"L":15,"t":3,"S":4.34},{"L":15,"t":3.6,"S":4.43},{"L":15,"t":4.2,"S":4.46},{"L":15,"t":4.8,"S":4.47},{"L":15,"t":5.4,"S":4.47},{"L":15,"t":6,"S":4.47},{"L":15,"t":6.6,"S":4.47},{"L":15,"t":7.2,"S":4.47},{"L":15,"t":7.8,"S":4.47},{"L":15,"t":8.4,"S":4.47},{"L":15,"t":9,"S":4.47},{"L":15,"t":9.6,"S":4.47},{"L":15,"t":10.2,"S":4.47},{"L":15,"t":10.8,"S":4.47},{"L":15,"t":11.4,"S":4.47},{"L":15,"t":12,"S":4.47},{"L":15,"t":12.6,"S":4.47},{"L":15,"t":13.2,"S":4.47},{"L":15,"t":13.8,"S":4.47},{"L":15,"t":14.4,"S":4.47},{"L":15,"t":15,"S":4.47},
{"L":16,"t":0,"S":0},{"L":16,"t":0.6,"S":0.98},{"L":16,"t":1.2,"S":2.7},{"L":16,"t":1.8,"S":3.93},{"L":16,"t":2.4,"S":4.52},{"L":16,"t":3,"S":4.76},{"L":16,"t":3.6,"S":4.86},{"L":16,"t":4.2,"S":4.9},{"L":16,"t":4.8,"S":4.91},{"L":16,"t":5.4,"S":4.91},{"L":16,"t":6,"S":4.91},{"L":16,"t":6.6,"S":4.91},{"L":16,"t":7.2,"S":4.91},{"L":16,"t":7.8,"S":4.91},{"L":16,"t":8.4,"S":4.91},{"L":16,"t":9,"S":4.91},{"L":16,"t":9.6,"S":4.91},{"L":16,"t":10.2,"S":4.91},{"L":16,"t":10.8,"S":4.91},{"L":16,"t":11.4,"S":4.91},{"L":16,"t":12,"S":4.91},{"L":16,"t":12.6,"S":4.91},{"L":16,"t":13.2,"S":4.91},{"L":16,"t":13.8,"S":4.91},{"L":16,"t":14.4,"S":4.91},{"L":16,"t":15,"S":4.91}],
"g":[
{"L":10,"t":0,"S":0},{"L":10,"t":0.6,"S":0.28},{"L":10,"t":1.2,"S":0.85},{"L":10,"t":1.8,"S":1.46},{"L":10,"t":2.4,"S":1.89},{"L":10,"t":3,"S":2.15},{"L":10,"t":3.6,"S":2.28},{"L":10,"t":4.2,"S":2.34},{"L":10,"t":4.8,"S":2.35},{"L":10,"t":5.4,"S":2.36},{"L":10,"t":6,"S":2.36},{"L":10,"t":6.6,"S":2.36},{"L":10,"t":7.2,"S":2.36},{"L":10,"t":7.8,"S":2.36},{"L":10,"t":8.4,"S":2.36},{"L":10,"t":9,"S":2.36},{"L":10,"t":9.6,"S":2.36},{"L":10,"t":10.2,"S":2.36},{"L":10,"t":10.8,"S":2.36},{"L":10,"t":11.4,"S":2.36},{"L":10,"t":12,"S":2.36},{"L":10,"t":12.6,"S":2.36},{"L":10,"t":13.2,"S":2.36},{"L":10,"t":13.8,"S":2.36},{"L":10,"t":14.4,"S":2.36},{"L":10,"t":15,"S":2.36},
{"L":11,"t":0,"S":0},{"L":11,"t":0.6,"S":0.33},{"L":11,"t":1.2,"S":0.99},{"L":11,"t":1.8,"S":1.71},{"L":11,"t":2.4,"S":2.21},{"L":11,"t":3,"S":2.51},{"L":11,"t":3.6,"S":2.66},{"L":11,"t":4.2,"S":2.73},{"L":11,"t":4.8,"S":2.75},{"L":11,"t":5.4,"S":2.76},{"L":11,"t":6,"S":2.76},{"L":11,"t":6.6,"S":2.76},{"L":11,"t":7.2,"S":2.76},{"L":11,"t":7.8,"S":2.76},{"L":11,"t":8.4,"S":2.76},{"L":11,"t":9,"S":2.76},{"L":11,"t":9.6,"S":2.76},{"L":11,"t":10.2,"S":2.76},{"L":11,"t":10.8,"S":2.76},{"L":11,"t":11.4,"S":2.76},{"L":11,"t":12,"S":2.76},{"L":11,"t":12.6,"S":2.76},{"L":11,"t":13.2,"S":2.76},{"L":11,"t":13.8,"S":2.76},{"L":11,"t":14.4,"S":2.76},{"L":11,"t":15,"S":2.76},
{"L":12,"t":0,"S":0},{"L":12,"t":0.6,"S":0.36},{"L":12,"t":1.2,"S":1.09},{"L":12,"t":1.8,"S":1.88},{"L":12,"t":2.4,"S":2.43},{"L":12,"t":3,"S":2.77},{"L":12,"t":3.6,"S":2.93},{"L":12,"t":4.2,"S":3.01},{"L":12,"t":4.8,"S":3.03},{"L":12,"t":5.4,"S":3.04},{"L":12,"t":6,"S":3.04},{"L":12,"t":6.6,"S":3.04},{"L":12,"t":7.2,"S":3.04},{"L":12,"t":7.8,"S":3.04},{"L":12,"t":8.4,"S":3.04},{"L":12,"t":9,"S":3.04},{"L":12,"t":9.6,"S":3.04},{"L":12,"t":10.2,"S":3.04},{"L":12,"t":10.8,"S":3.04},{"L":12,"t":11.4,"S":3.04},{"L":12,"t":12,"S":3.04},{"L":12,"t":12.6,"S":3.04},{"L":12,"t":13.2,"S":3.04},{"L":12,"t":13.8,"S":3.04},{"L":12,"t":14.4,"S":3.04},{"L":12,"t":15,"S":3.04},
{"L":13,"t":0,"S":0},{"L":13,"t":0.6,"S":0.41},{"L":13,"t":1.2,"S":1.24},{"L":13,"t":1.8,"S":2.14},{"L":13,"t":2.4,"S":2.76},{"L":13,"t":3,"S":3.14},{"L":13,"t":3.6,"S":3.33},{"L":13,"t":4.2,"S":3.42},{"L":13,"t":4.8,"S":3.44},{"L":13,"t":5.4,"S":3.45},{"L":13,"t":6,"S":3.45},{"L":13,"t":6.6,"S":3.45},{"L":13,"t":7.2,"S":3.45},{"L":13,"t":7.8,"S":3.45},{"L":13,"t":8.4,"S":3.45},{"L":13,"t":9,"S":3.45},{"L":13,"t":9.6,"S":3.45},{"L":13,"t":10.2,"S":3.45},{"L":13,"t":10.8,"S":3.45},{"L":13,"t":11.4,"S":3.45},{"L":13,"t":12,"S":3.45},{"L":13,"t":12.6,"S":3.45},{"L":13,"t":13.2,"S":3.45},{"L":13,"t":13.8,"S":3.45},{"L":13,"t":14.4,"S":3.45},{"L":13,"t":15,"S":3.45},
{"L":14,"t":0,"S":0},{"L":14,"t":0.6,"S":0.45},{"L":14,"t":1.2,"S":1.34},{"L":14,"t":1.8,"S":2.31},{"L":14,"t":2.4,"S":2.98},{"L":14,"t":3,"S":3.39},{"L":14,"t":3.6,"S":3.6},{"L":14,"t":4.2,"S":3.69},{"L":14,"t":4.8,"S":3.72},{"L":14,"t":5.4,"S":3.73},{"L":14,"t":6,"S":3.73},{"L":14,"t":6.6,"S":3.73},{"L":14,"t":7.2,"S":3.73},{"L":14,"t":7.8,"S":3.73},{"L":14,"t":8.4,"S":3.73},{"L":14,"t":9,"S":3.73},{"L":14,"t":9.6,"S":3.73},{"L":14,"t":10.2,"S":3.73},{"L":14,"t":10.8,"S":3.73},{"L":14,"t":11.4,"S":3.73},{"L":14,"t":12,"S":3.73},{"L":14,"t":12.6,"S":3.73},{"L":14,"t":13.2,"S":3.73},{"L":14,"t":13.8,"S":3.73},{"L":14,"t":14.4,"S":3.73},{"L":14,"t":15,"S":3.73},
{"L":15,"t":0,"S":0},{"L":15,"t":0.6,"S":0.5},{"L":15,"t":1.2,"S":1.49},{"L":15,"t":1.8,"S":2.56},{"L":15,"t":2.4,"S":3.3},{"L":15,"t":3,"S":3.76},{"L":15,"t":3.6,"S":3.99},{"L":15,"t":4.2,"S":4.09},{"L":15,"t":4.8,"S":4.12},{"L":15,"t":5.4,"S":4.13},{"L":15,"t":6,"S":4.13},{"L":15,"t":6.6,"S":4.13},{"L":15,"t":7.2,"S":4.13},{"L":15,"t":7.8,"S":4.13},{"L":15,"t":8.4,"S":4.13},{"L":15,"t":9,"S":4.13},{"L":15,"t":9.6,"S":4.13},{"L":15,"t":10.2,"S":4.13},{"L":15,"t":10.8,"S":4.13},{"L":15,"t":11.4,"S":4.13},{"L":15,"t":12,"S":4.13},{"L":15,"t":12.6,"S":4.13},{"L":15,"t":13.2,"S":4.13},{"L":15,"t":13.8,"S":4.13},{"L":15,"t":14.4,"S":4.13},{"L":15,"t":15,"S":4.13},
{"L":16,"t":0,"S":0},{"L":16,"t":0.6,"S":0.54},{"L":16,"t":1.2,"S":1.61},{"L":16,"t":1.8,"S":2.77},{"L":16,"t":2.4,"S":3.57},{"L":16,"t":3,"S":4.06},{"L":16,"t":3.6,"S":4.3},{"L":16,"t":4.2,"S":4.42},{"L":16,"t":4.8,"S":4.45},{"L":16,"t":5.4,"S":4.46},{"L":16,"t":6,"S":4.46},{"L":16,"t":6.6,"S":4.46},{"L":16,"t":7.2,"S":4.46},{"L":16,"t":7.8,"S":4.46},{"L":16,"t":8.4,"S":4.46},{"L":16,"t":9,"S":4.46},{"L":16,"t":9.6,"S":4.46},{"L":16,"t":10.2,"S":4.46},{"L":16,"t":10.8,"S":4.46},{"L":16,"t":11.4,"S":4.46},{"L":16,"t":12,"S":4.46},{"L":16,"t":12.6,"S":4.46},{"L":16,"t":13.2,"S":4.46},{"L":16,"t":13.8,"S":4.46},{"L":16,"t":14.4,"S":4.46},{"L":16,"t":15,"S":4.46}],
"h":[
{"L":10,"t":0,"S":0},{"L":10,"t":0.6,"S":0.03},{"L":10,"t":1.2,"S":0.11},{"L":10,"t":1.8,"S":0.39},{"L":10,"t":2.4,"S":0.75},{"L":10,"t":3,"S":1.2},{"L":10,"t":3.6,"S":1.59},{"L":10,"t":4.2,"S":2.09},{"L":10,"t":4.8,"S":2.46},{"L":10,"t":5.4,"S":2.68},{"L":10,"t":6,"S":2.76},{"L":10,"t":6.6,"S":2.79},{"L":10,"t":7.2,"S":2.79},{"L":10,"t":7.8,"S":2.79},{"L":10,"t":8.4,"S":2.79},{"L":10,"t":9,"S":2.79},{"L":10,"t":9.6,"S":2.79},{"L":10,"t":10.2,"S":2.79},{"L":10,"t":10.8,"S":2.79},{"L":10,"t":11.4,"S":2.79},{"L":10,"t":12,"S":2.79},{"L":10,"t":12.6,"S":2.79},{"L":10,"t":13.2,"S":2.79},{"L":10,"t":13.8,"S":2.79},{"L":10,"t":14.4,"S":2.79},{"L":10,"t":15,"S":2.79},
{"L":11,"t":0,"S":0},{"L":11,"t":0.6,"S":0.04},{"L":11,"t":1.2,"S":0.14},{"L":11,"t":1.8,"S":0.46},{"L":11,"t":2.4,"S":0.86},{"L":11,"t":3,"S":1.37},{"L":11,"t":3.6,"S":1.82},{"L":11,"t":4.2,"S":2.36},{"L":11,"t":4.8,"S":2.75},{"L":11,"t":5.4,"S":2.97},{"L":11,"t":6,"S":3.05},{"L":11,"t":6.6,"S":3.08},{"L":11,"t":7.2,"S":3.08},{"L":11,"t":7.8,"S":3.08},{"L":11,"t":8.4,"S":3.08},{"L":11,"t":9,"S":3.08},{"L":11,"t":9.6,"S":3.08},{"L":11,"t":10.2,"S":3.08},{"L":11,"t":10.8,"S":3.08},{"L":11,"t":11.4,"S":3.08},{"L":11,"t":12,"S":3.08},{"L":11,"t":12.6,"S":3.08},{"L":11,"t":13.2,"S":3.08},{"L":11,"t":13.8,"S":3.08},{"L":11,"t":14.4,"S":3.08},{"L":11,"t":15,"S":3.08},
{"L":12,"t":0,"S":0},{"L":12,"t":0.6,"S":0.05},{"L":12,"t":1.2,"S":0.19},{"L":12,"t":1.8,"S":0.55},{"L":12,"t":2.4,"S":1.02},{"L":12,"t":3,"S":1.6},{"L":12,"t":3.6,"S":2.15},{"L":12,"t":4.2,"S":2.74},{"L":12,"t":4.8,"S":3.16},{"L":12,"t":5.4,"S":3.38},{"L":12,"t":6,"S":3.47},{"L":12,"t":6.6,"S":3.5},{"L":12,"t":7.2,"S":3.5},{"L":12,"t":7.8,"S":3.5},{"L":12,"t":8.4,"S":3.5},{"L":12,"t":9,"S":3.5},{"L":12,"t":9.6,"S":3.5},{"L":12,"t":10.2,"S":3.5},{"L":12,"t":10.8,"S":3.5},{"L":12,"t":11.4,"S":3.5},{"L":12,"t":12,"S":3.5},{"L":12,"t":12.6,"S":3.5},{"L":12,"t":13.2,"S":3.5},{"L":12,"t":13.8,"S":3.5},{"L":12,"t":14.4,"S":3.5},{"L":12,"t":15,"S":3.5},
{"L":13,"t":0,"S":0},{"L":13,"t":0.6,"S":0.06},{"L":13,"t":1.2,"S":0.24},{"L":13,"t":1.8,"S":0.63},{"L":13,"t":2.4,"S":1.14},{"L":13,"t":3,"S":1.76},{"L":13,"t":3.6,"S":2.41},{"L":13,"t":4.2,"S":3.03},{"L":13,"t":4.8,"S":3.47},{"L":13,"t":5.4,"S":3.68},{"L":13,"t":6,"S":3.76},{"L":13,"t":6.6,"S":3.79},{"L":13,"t":7.2,"S":3.79},{"L":13,"t":7.8,"S":3.79},{"L":13,"t":8.4,"S":3.79},{"L":13,"t":9,"S":3.79},{"L":13,"t":9.6,"S":3.79},{"L":13,"t":10.2,"S":3.79},{"L":13,"t":10.8,"S":3.79},{"L":13,"t":11.4,"S":3.79},{"L":13,"t":12,"S":3.79},{"L":13,"t":12.6,"S":3.79},{"L":13,"t":13.2,"S":3.79},{"L":13,"t":13.8,"S":3.79},{"L":13,"t":14.4,"S":3.79},{"L":13,"t":15,"S":3.79},
{"L":14,"t":0,"S":0},{"L":14,"t":0.6,"S":0.07},{"L":14,"t":1.2,"S":0.29},{"L":14,"t":1.8,"S":0.73},{"L":14,"t":2.4,"S":1.31},{"L":14,"t":3,"S":2.01},{"L":14,"t":3.6,"S":2.77},{"L":14,"t":4.2,"S":3.44},{"L":14,"t":4.8,"S":3.9},{"L":14,"t":5.4,"S":4.1},{"L":14,"t":6,"S":4.18},{"L":14,"t":6.6,"S":4.21},{"L":14,"t":7.2,"S":4.21},{"L":14,"t":7.8,"S":4.21},{"L":14,"t":8.4,"S":4.21},{"L":14,"t":9,"S":4.21},{"L":14,"t":9.6,"S":4.21},{"L":14,"t":10.2,"S":4.21},{"L":14,"t":10.8,"S":4.21},{"L":14,"t":11.4,"S":4.21},{"L":14,"t":12,"S":4.21},{"L":14,"t":12.6,"S":4.21},{"L":14,"t":13.2,"S":4.21},{"L":14,"t":13.8,"S":4.21},{"L":14,"t":14.4,"S":4.21},{"L":14,"t":15,"S":4.21},
{"L":15,"t":0,"S":0},{"L":15,"t":0.6,"S":0.08},{"L":15,"t":1.2,"S":0.35},{"L":15,"t":1.8,"S":0.81},{"L":15,"t":2.4,"S":1.42},{"L":15,"t":3,"S":2.18},{"L":15,"t":3.6,"S":3.03},{"L":15,"t":4.2,"S":3.72},{"L":15,"t":4.8,"S":4.19},{"L":15,"t":5.4,"S":4.37},{"L":15,"t":6,"S":4.44},{"L":15,"t":6.6,"S":4.47},{"L":15,"t":7.2,"S":4.47},{"L":15,"t":7.8,"S":4.47},{"L":15,"t":8.4,"S":4.47},{"L":15,"t":9,"S":4.47},{"L":15,"t":9.6,"S":4.47},{"L":15,"t":10.2,"S":4.47},{"L":15,"t":10.8,"S":4.47},{"L":15,"t":11.4,"S":4.47},{"L":15,"t":12,"S":4.47},{"L":15,"t":12.6,"S":4.47},{"L":15,"t":13.2,"S":4.47},{"L":15,"t":13.8,"S":4.47},{"L":15,"t":14.4,"S":4.47},{"L":15,"t":15,"S":4.47},
{"L":16,"t":0,"S":0},{"L":16,"t":0.6,"S":0.1},{"L":16,"t":1.2,"S":0.42},{"L":16,"t":1.8,"S":0.93},{"L":16,"t":2.4,"S":1.62},{"L":16,"t":3,"S":2.46},{"L":16,"t":3.6,"S":3.44},{"L":16,"t":4.2,"S":4.17},{"L":16,"t":4.8,"S":4.66},{"L":16,"t":5.4,"S":4.81},{"L":16,"t":6,"S":4.89},{"L":16,"t":6.6,"S":4.91},{"L":16,"t":7.2,"S":4.91},{"L":16,"t":7.8,"S":4.91},{"L":16,"t":8.4,"S":4.91},{"L":16,"t":9,"S":4.91},{"L":16,"t":9.6,"S":4.91},{"L":16,"t":10.2,"S":4.91},{"L":16,"t":10.8,"S":4.91},{"L":16,"t":11.4,"S":4.91},{"L":16,"t":12,"S":4.91},{"L":16,"t":12.6,"S":4.91},{"L":16,"t":13.2,"S":4.91},{"L":16,"t":13.8,"S":4.91},{"L":16,"t":14.4,"S":4.91},{"L":16,"t":15,"S":4.91}]
},
"vconcat":[{
 "title":{"text":"2.\u00a0\u00a0\u00a0Double Néel state","anchor":"start","frame":"group","dx":328,"font":"Liberation Serif","fontStyle":"italic","fontSize":19.5,"fontWeight":"normal","color":"#000","offset":31},
 "vconcat":[{
  "title":{"text":[
   "\u2800\u2800We now consider the double-Néel state. Compared with the Néel state, this state is another experimentally relevant",
   "product state characterized by a period-four spin pattern. Fig. 6 shows the von-Neumann and second-order Rényi",
   "ntanglement entropies for interaction orders q = 2, 3, 4, and 5 with several system sizes L. The entanglement dynamics",
   "exhibit trends similar to those observed for the random, symmetric superposition, and Néel states. For all values of",
   "q, both entropies display an initial growth followed by saturation at long times. For a fixed interaction order q, the",
   "growth becomes progressively steeper with increasing system size, indicating faster entanglement generation in large",
   "system sizes. On the other hand, increasing q leads to a slower buildup of entanglement. At late times, the numerical",
   "results remain close to the corresponding Haar predictions."],
   "anchor":"start","frame":"group","dx":-93,"font":"DejaVu Serif","fontSize":16.4,"fontWeight":"normal","lineHeight":20.1,"color":"#000","offset":70},
  "columns":4,"spacing":{"row":17,"column":19},"bounds":"flush",
  "concat":[
    {"width":201,"height":185,"resolve":{"axis":{"x":"independent","y":"independent"}},"layer":[
     {"data":{"name":"a"},"mark":{"type":"line","strokeWidth":1.5},"encoding":{
      "x":{"field":"t","type":"quantitative","scale":{"domain":[0,15],"nice":false},"axis":{"orient":"bottom","values":[0,1,2,3,4,5,6,7,8,9,10,11,12,13,14,15],"labels":false,"tickSize":{"condition":{"test":"datum.value % 5 == 0","value":-5},"value":-2.5},"title":null}},
      "y":{"field":"S","type":"quantitative","scale":{"domain":[0,5.2],"nice":false},"axis":{"orient":"left","values":[0,0.2,0.4,0.6,0.8,1,1.2,1.4,1.6,1.8,2,2.2,2.4,2.6,2.8,3,3.2,3.4,3.6,3.8,4,4.2,4.4,4.6,4.8,5,5.2],"labelExpr":"abs(datum.value - round(datum.value)) < 0.01 ? '' + round(datum.value) : ''","tickSize":{"condition":{"test":"abs(datum.value - round(datum.value)) < 0.01","value":-5},"value":-2.5},"labelPadding":4,"title":"⟨S_A^(vN)⟩","titlePadding":6}},
      "color":{"field":"L","type":"nominal","scale":{"domain":[10,11,12,13,14,15,16,17],"range":["#0072BD","#D95319","#7E2F8E","#77AC30","#A2142F","#4DBEEE","#EDB120","#000000"]},
       "legend":{"orient":"none","legendX":132.5,"legendY":-25,"direction":"horizontal","columns":7,"values":[10,11,12,13,14,15,16],"title":null,"symbolType":"M-2.6,0H-1.1M1.1,0H2.6","symbolSize":48,"symbolStrokeWidth":1.4,"labelFont":"Liberation Serif","labelFontSize":15.5,"labelColor":"transparent","labelOffset":6,"columnPadding":2.5,"labelExpr":"'L = ' + datum.label"}}}},
     {"data":{"name":"haar"},"transform":[{"filter":"datum.k == 've'"}],"mark":{"type":"rule","color":"#222","strokeWidth":1.1,"strokeDash":[6,2.5,1.5,2.5]},"encoding":{"y":{"field":"H","type":"quantitative","scale":{"domain":[0,5.2],"nice":false},"axis":null}}},
     {"data":{"name":"a"},"mark":{"type":"point","filled":false,"size":48,"strokeWidth":1.4,"opacity":1},"encoding":{
      "x":{"field":"t","type":"quantitative","scale":{"domain":[0,15],"nice":false},"axis":{"orient":"top","values":[0,1,2,3,4,5,6,7,8,9,10,11,12,13,14,15],"labels":false,"tickSize":{"condition":{"test":"datum.value % 5 == 0","value":-5},"value":-2.5},"title":null}},
      "y":{"field":"S","type":"quantitative","scale":{"domain":[0,5.2],"nice":false},"axis":{"orient":"right","values":[0,0.2,0.4,0.6,0.8,1,1.2,1.4,1.6,1.8,2,2.2,2.4,2.6,2.8,3,3.2,3.4,3.6,3.8,4,4.2,4.4,4.6,4.8,5,5.2],"labels":false,"tickSize":{"condition":{"test":"abs(datum.value - round(datum.value)) < 0.01","value":-5},"value":-2.5},"title":null}},
      "stroke":{"field":"L","type":"nominal","scale":{"domain":[10,11,12,13,14,15,16],"range":["#0072BD","#D95319","#7E2F8E","#77AC30","#A2142F","#4DBEEE","#EDB120"]},
       "legend":{"orient":"none","legendX":134,"legendY":-25,"direction":"horizontal","columns":7,"title":null,"symbolSize":48,"symbolStrokeWidth":1.4,"labelFont":"Liberation Serif","labelFontSize":15.5,"labelColor":"#000","labelOffset":6,"columnPadding":8,"labelExpr":"'L = ' + datum.label"}},
      "shape":{"field":"L","type":"nominal","scale":{"domain":[10,11,12,13,14,15,16],"range":["circle","square","M0,-1.3L0.95,0L0,1.3L-0.95,0Z","M0,-1.25L1.15,0.85L-1.15,0.85Z","M0,1.25L1.15,-0.85L-1.15,-0.85Z","M0,-1.3L0.306,-0.421L1.236,-0.402L0.494,0.161L0.764,1.052L0,0.52L-0.764,1.052L-0.494,0.161L-1.236,-0.402L-0.306,-0.421Z","M0,-1.3L0.375,-0.65L1.126,-0.65L0.75,0L1.126,0.65L0.375,0.65L0,1.3L-0.375,0.65L-1.126,0.65L-0.75,0L-1.126,-0.65L-0.375,-0.65Z"]}},
      "fill":{"condition":{"test":"datum.L == 15","value":"#4DBEEE"},"value":"transparent"}}},
     {"data":{"values":[{}]},"mark":{"type":"text","text":"(a)","align":"left","baseline":"top","dy":3,"font":"Liberation Sans","fontSize":15},"encoding":{"x":{"datum":0.45,"type":"quantitative","axis":null},"y":{"datum":5.2,"type":"quantitative","axis":null}}},
     {"data":{"values":[{}]},"mark":{"type":"text","text":"q = 2","font":"Liberation Serif","fontSize":16},"encoding":{"x":{"datum":9.4,"type":"quantitative","axis":null},"y":{"datum":1.24,"type":"quantitative","axis":null}}}
    ]},
    {"width":201,"height":185,"resolve":{"axis":{"x":"independent","y":"independent"}},"layer":[
     {"data":{"name":"b"},"mark":{"type":"line","strokeWidth":1.5},"encoding":{
      "x":{"field":"t","type":"quantitative","scale":{"domain":[0,15],"nice":false},"axis":{"orient":"bottom","values":[0,1,2,3,4,5,6,7,8,9,10,11,12,13,14,15],"labels":false,"tickSize":{"condition":{"test":"datum.value % 5 == 0","value":-5},"value":-2.5},"title":null}},
      "y":{"field":"S","type":"quantitative","scale":{"domain":[0,5.7],"nice":false},"axis":{"orient":"left","values":[0,0.2,0.4,0.6,0.8,1,1.2,1.4,1.6,1.8,2,2.2,2.4,2.6,2.8,3,3.2,3.4,3.6,3.8,4,4.2,4.4,4.6,4.8,5,5.2,5.4,5.6],"labelExpr":"abs(datum.value - round(datum.value)) < 0.01 ? '' + round(datum.value) : ''","tickSize":{"condition":{"test":"abs(datum.value - round(datum.value)) < 0.01","value":-5},"value":-2.5},"labelPadding":4,"title":null}},
      "color":{"field":"L","type":"nominal"}}},
     {"data":{"name":"haar"},"transform":[{"filter":"datum.k == 'vo'"}],"mark":{"type":"rule","color":"#222","strokeWidth":1.1,"strokeDash":[6,2.5,1.5,2.5]},"encoding":{"y":{"field":"H","type":"quantitative","scale":{"domain":[0,5.7],"nice":false},"axis":null}}},
     {"data":{"name":"b"},"mark":{"type":"point","filled":false,"size":48,"strokeWidth":1.4,"opacity":1},"encoding":{
      "x":{"field":"t","type":"quantitative","scale":{"domain":[0,15],"nice":false},"axis":{"orient":"top","values":[0,1,2,3,4,5,6,7,8,9,10,11,12,13,14,15],"labels":false,"tickSize":{"condition":{"test":"datum.value % 5 == 0","value":-5},"value":-2.5},"title":null}},
      "y":{"field":"S","type":"quantitative","scale":{"domain":[0,5.7],"nice":false},"axis":{"orient":"right","values":[0,0.2,0.4,0.6,0.8,1,1.2,1.4,1.6,1.8,2,2.2,2.4,2.6,2.8,3,3.2,3.4,3.6,3.8,4,4.2,4.4,4.6,4.8,5,5.2,5.4,5.6],"labels":false,"tickSize":{"condition":{"test":"abs(datum.value - round(datum.value)) < 0.01","value":-5},"value":-2.5},"title":null}},
      "stroke":{"field":"L","type":"nominal"},"shape":{"field":"L","type":"nominal"},
      "fill":{"condition":{"test":"datum.L == 15","value":"#4DBEEE"},"value":"transparent"}}},
     {"data":{"values":[{}]},"mark":{"type":"text","text":"(b)","align":"left","baseline":"top","dy":3,"font":"Liberation Sans","fontSize":15},"encoding":{"x":{"datum":0.45,"type":"quantitative","axis":null},"y":{"datum":5.7,"type":"quantitative","axis":null}}},
     {"data":{"values":[{}]},"mark":{"type":"text","text":"q = 3","font":"Liberation Serif","fontSize":16},"encoding":{"x":{"datum":9.4,"type":"quantitative","axis":null},"y":{"datum":1.36,"type":"quantitative","axis":null}}}
    ]},
    {"width":201,"height":185,"resolve":{"axis":{"x":"independent","y":"independent"}},"layer":[
     {"data":{"name":"c"},"mark":{"type":"line","strokeWidth":1.5},"encoding":{
      "x":{"field":"t","type":"quantitative","scale":{"domain":[0,15],"nice":false},"axis":{"orient":"bottom","values":[0,1,2,3,4,5,6,7,8,9,10,11,12,13,14,15],"labels":false,"tickSize":{"condition":{"test":"datum.value % 5 == 0","value":-5},"value":-2.5},"title":null}},
      "y":{"field":"S","type":"quantitative","scale":{"domain":[0,5.2],"nice":false},"axis":{"orient":"left","values":[0,0.2,0.4,0.6,0.8,1,1.2,1.4,1.6,1.8,2,2.2,2.4,2.6,2.8,3,3.2,3.4,3.6,3.8,4,4.2,4.4,4.6,4.8,5,5.2],"labelExpr":"abs(datum.value - round(datum.value)) < 0.01 ? '' + round(datum.value) : ''","tickSize":{"condition":{"test":"abs(datum.value - round(datum.value)) < 0.01","value":-5},"value":-2.5},"labelPadding":4,"title":null}},
      "color":{"field":"L","type":"nominal"}}},
     {"data":{"name":"haar"},"transform":[{"filter":"datum.k == 've'"}],"mark":{"type":"rule","color":"#222","strokeWidth":1.1,"strokeDash":[6,2.5,1.5,2.5]},"encoding":{"y":{"field":"H","type":"quantitative","scale":{"domain":[0,5.2],"nice":false},"axis":null}}},
     {"data":{"name":"c"},"mark":{"type":"point","filled":false,"size":48,"strokeWidth":1.4,"opacity":1},"encoding":{
      "x":{"field":"t","type":"quantitative","scale":{"domain":[0,15],"nice":false},"axis":{"orient":"top","values":[0,1,2,3,4,5,6,7,8,9,10,11,12,13,14,15],"labels":false,"tickSize":{"condition":{"test":"datum.value % 5 == 0","value":-5},"value":-2.5},"title":null}},
      "y":{"field":"S","type":"quantitative","scale":{"domain":[0,5.2],"nice":false},"axis":{"orient":"right","values":[0,0.2,0.4,0.6,0.8,1,1.2,1.4,1.6,1.8,2,2.2,2.4,2.6,2.8,3,3.2,3.4,3.6,3.8,4,4.2,4.4,4.6,4.8,5,5.2],"labels":false,"tickSize":{"condition":{"test":"abs(datum.value - round(datum.value)) < 0.01","value":-5},"value":-2.5},"title":null}},
      "stroke":{"field":"L","type":"nominal"},"shape":{"field":"L","type":"nominal"},
      "fill":{"condition":{"test":"datum.L == 15","value":"#4DBEEE"},"value":"transparent"}}},
     {"data":{"values":[{}]},"mark":{"type":"text","text":"(c)","align":"left","baseline":"top","dy":3,"font":"Liberation Sans","fontSize":15},"encoding":{"x":{"datum":0.45,"type":"quantitative","axis":null},"y":{"datum":5.2,"type":"quantitative","axis":null}}},
     {"data":{"values":[{}]},"mark":{"type":"text","text":"q = 4","font":"Liberation Serif","fontSize":16},"encoding":{"x":{"datum":9.4,"type":"quantitative","axis":null},"y":{"datum":1.2,"type":"quantitative","axis":null}}}
    ]},
    {"width":201,"height":185,"resolve":{"axis":{"x":"independent","y":"independent"}},"layer":[
     {"data":{"name":"d"},"mark":{"type":"line","strokeWidth":1.5},"encoding":{
      "x":{"field":"t","type":"quantitative","scale":{"domain":[0,15],"nice":false},"axis":{"orient":"bottom","values":[0,1,2,3,4,5,6,7,8,9,10,11,12,13,14,15],"labels":false,"tickSize":{"condition":{"test":"datum.value % 5 == 0","value":-5},"value":-2.5},"title":null}},
      "y":{"field":"S","type":"quantitative","scale":{"domain":[0,5.7],"nice":false},"axis":{"orient":"left","values":[0,0.2,0.4,0.6,0.8,1,1.2,1.4,1.6,1.8,2,2.2,2.4,2.6,2.8,3,3.2,3.4,3.6,3.8,4,4.2,4.4,4.6,4.8,5,5.2,5.4,5.6],"labelExpr":"abs(datum.value - round(datum.value)) < 0.01 ? '' + round(datum.value) : ''","tickSize":{"condition":{"test":"abs(datum.value - round(datum.value)) < 0.01","value":-5},"value":-2.5},"labelPadding":4,"title":null}},
      "color":{"field":"L","type":"nominal"}}},
     {"data":{"name":"haar"},"transform":[{"filter":"datum.k == 'vo'"}],"mark":{"type":"rule","color":"#222","strokeWidth":1.1,"strokeDash":[6,2.5,1.5,2.5]},"encoding":{"y":{"field":"H","type":"quantitative","scale":{"domain":[0,5.7],"nice":false},"axis":null}}},
     {"data":{"name":"d"},"mark":{"type":"point","filled":false,"size":48,"strokeWidth":1.4,"opacity":1},"encoding":{
      "x":{"field":"t","type":"quantitative","scale":{"domain":[0,15],"nice":false},"axis":{"orient":"top","values":[0,1,2,3,4,5,6,7,8,9,10,11,12,13,14,15],"labels":false,"tickSize":{"condition":{"test":"datum.value % 5 == 0","value":-5},"value":-2.5},"title":null}},
      "y":{"field":"S","type":"quantitative","scale":{"domain":[0,5.7],"nice":false},"axis":{"orient":"right","values":[0,0.2,0.4,0.6,0.8,1,1.2,1.4,1.6,1.8,2,2.2,2.4,2.6,2.8,3,3.2,3.4,3.6,3.8,4,4.2,4.4,4.6,4.8,5,5.2,5.4,5.6],"labels":false,"tickSize":{"condition":{"test":"abs(datum.value - round(datum.value)) < 0.01","value":-5},"value":-2.5},"title":null}},
      "stroke":{"field":"L","type":"nominal"},"shape":{"field":"L","type":"nominal"},
      "fill":{"condition":{"test":"datum.L == 15","value":"#4DBEEE"},"value":"transparent"}}},
     {"data":{"values":[{}]},"mark":{"type":"text","text":"(d)","align":"left","baseline":"top","dy":3,"font":"Liberation Sans","fontSize":15},"encoding":{"x":{"datum":0.45,"type":"quantitative","axis":null},"y":{"datum":5.7,"type":"quantitative","axis":null}}},
     {"data":{"values":[{}]},"mark":{"type":"text","text":"q = 5","font":"Liberation Serif","fontSize":16},"encoding":{"x":{"datum":9.3,"type":"quantitative","axis":null},"y":{"datum":1.38,"type":"quantitative","axis":null}}}
    ]},
    {"width":201,"height":183,"resolve":{"axis":{"x":"independent","y":"independent"}},"layer":[
     {"data":{"name":"e"},"mark":{"type":"line","strokeWidth":1.5},"encoding":{
      "x":{"field":"t","type":"quantitative","scale":{"domain":[0,15],"nice":false},"axis":{"orient":"bottom","values":[0,1,2,3,4,5,6,7,8,9,10,11,12,13,14,15],"labelExpr":"datum.value % 5 == 0 ? '' + datum.value : ''","tickSize":{"condition":{"test":"datum.value % 5 == 0","value":-5},"value":-2.5},"labelPadding":11,"title":"t","titlePadding":1}},
      "y":{"field":"S","type":"quantitative","scale":{"domain":[0,5.05],"nice":false},"axis":{"orient":"left","values":[0,0.2,0.4,0.6,0.8,1,1.2,1.4,1.6,1.8,2,2.2,2.4,2.6,2.8,3,3.2,3.4,3.6,3.8,4,4.2,4.4,4.6,4.8,5],"labelExpr":"abs(datum.value - round(datum.value)) < 0.01 ? '' + round(datum.value) : ''","tickSize":{"condition":{"test":"abs(datum.value - round(datum.value)) < 0.01","value":-5},"value":-2.5},"labelPadding":4,"title":"⟨S_A^(2)⟩","titlePadding":6}},
      "color":{"field":"L","type":"nominal"}}},
     {"data":{"name":"haar"},"transform":[{"filter":"datum.k == 're'"}],"mark":{"type":"rule","color":"#222","strokeWidth":1.1,"strokeDash":[6,2.5,1.5,2.5]},"encoding":{"y":{"field":"H","type":"quantitative","scale":{"domain":[0,5.05],"nice":false},"axis":null}}},
     {"data":{"name":"e"},"mark":{"type":"point","filled":false,"size":48,"strokeWidth":1.4,"opacity":1},"encoding":{
      "x":{"field":"t","type":"quantitative","scale":{"domain":[0,15],"nice":false},"axis":{"orient":"top","values":[0,1,2,3,4,5,6,7,8,9,10,11,12,13,14,15],"labels":false,"tickSize":{"condition":{"test":"datum.value % 5 == 0","value":-5},"value":-2.5},"title":null}},
      "y":{"field":"S","type":"quantitative","scale":{"domain":[0,5.05],"nice":false},"axis":{"orient":"right","values":[0,0.2,0.4,0.6,0.8,1,1.2,1.4,1.6,1.8,2,2.2,2.4,2.6,2.8,3,3.2,3.4,3.6,3.8,4,4.2,4.4,4.6,4.8,5],"labels":false,"tickSize":{"condition":{"test":"abs(datum.value - round(datum.value)) < 0.01","value":-5},"value":-2.5},"title":null}},
      "stroke":{"field":"L","type":"nominal"},"shape":{"field":"L","type":"nominal"},
      "fill":{"condition":{"test":"datum.L == 15","value":"#4DBEEE"},"value":"transparent"}}},
     {"data":{"values":[{}]},"mark":{"type":"text","text":"(e)","align":"left","baseline":"top","dy":3,"font":"Liberation Sans","fontSize":15},"encoding":{"x":{"datum":0.45,"type":"quantitative","axis":null},"y":{"datum":5.05,"type":"quantitative","axis":null}}},
     {"data":{"values":[{}]},"mark":{"type":"text","text":"q = 2","font":"Liberation Serif","fontSize":16},"encoding":{"x":{"datum":9.4,"type":"quantitative","axis":null},"y":{"datum":1.18,"type":"quantitative","axis":null}}}
    ]},
    {"width":201,"height":183,"resolve":{"axis":{"x":"independent","y":"independent"}},"layer":[
     {"data":{"name":"f"},"mark":{"type":"line","strokeWidth":1.5},"encoding":{
      "x":{"field":"t","type":"quantitative","scale":{"domain":[0,15],"nice":false},"axis":{"orient":"bottom","values":[0,1,2,3,4,5,6,7,8,9,10,11,12,13,14,15],"labelExpr":"datum.value % 5 == 0 ? '' + datum.value : ''","tickSize":{"condition":{"test":"datum.value % 5 == 0","value":-5},"value":-2.5},"labelPadding":11,"title":"t","titlePadding":1}},
      "y":{"field":"S","type":"quantitative","scale":{"domain":[0,5.7],"nice":false},"axis":{"orient":"left","values":[0,0.2,0.4,0.6,0.8,1,1.2,1.4,1.6,1.8,2,2.2,2.4,2.6,2.8,3,3.2,3.4,3.6,3.8,4,4.2,4.4,4.6,4.8,5,5.2,5.4,5.6],"labelExpr":"abs(datum.value - round(datum.value)) < 0.01 ? '' + round(datum.value) : ''","tickSize":{"condition":{"test":"abs(datum.value - round(datum.value)) < 0.01","value":-5},"value":-2.5},"labelPadding":4,"title":null}},
      "color":{"field":"L","type":"nominal"}}},
     {"data":{"name":"haar"},"transform":[{"filter":"datum.k == 'ro'"}],"mark":{"type":"rule","color":"#222","strokeWidth":1.1,"strokeDash":[6,2.5,1.5,2.5]},"encoding":{"y":{"field":"H","type":"quantitative","scale":{"domain":[0,5.7],"nice":false},"axis":null}}},
     {"data":{"name":"f"},"mark":{"type":"point","filled":false,"size":48,"strokeWidth":1.4,"opacity":1},"encoding":{
      "x":{"field":"t","type":"quantitative","scale":{"domain":[0,15],"nice":false},"axis":{"orient":"top","values":[0,1,2,3,4,5,6,7,8,9,10,11,12,13,14,15],"labels":false,"tickSize":{"condition":{"test":"datum.value % 5 == 0","value":-5},"value":-2.5},"title":null}},
      "y":{"field":"S","type":"quantitative","scale":{"domain":[0,5.7],"nice":false},"axis":{"orient":"right","values":[0,0.2,0.4,0.6,0.8,1,1.2,1.4,1.6,1.8,2,2.2,2.4,2.6,2.8,3,3.2,3.4,3.6,3.8,4,4.2,4.4,4.6,4.8,5,5.2,5.4,5.6],"labels":false,"tickSize":{"condition":{"test":"abs(datum.value - round(datum.value)) < 0.01","value":-5},"value":-2.5},"title":null}},
      "stroke":{"field":"L","type":"nominal"},"shape":{"field":"L","type":"nominal"},
      "fill":{"condition":{"test":"datum.L == 15","value":"#4DBEEE"},"value":"transparent"}}},
     {"data":{"values":[{}]},"mark":{"type":"text","text":"(f)","align":"left","baseline":"top","dy":3,"font":"Liberation Sans","fontSize":15},"encoding":{"x":{"datum":0.45,"type":"quantitative","axis":null},"y":{"datum":5.7,"type":"quantitative","axis":null}}},
     {"data":{"values":[{}]},"mark":{"type":"text","text":"q = 3","font":"Liberation Serif","fontSize":16},"encoding":{"x":{"datum":9.4,"type":"quantitative","axis":null},"y":{"datum":1.42,"type":"quantitative","axis":null}}}
    ]},
    {"width":201,"height":183,"resolve":{"axis":{"x":"independent","y":"independent"}},"layer":[
     {"data":{"name":"g"},"mark":{"type":"line","strokeWidth":1.5},"encoding":{
      "x":{"field":"t","type":"quantitative","scale":{"domain":[0,15],"nice":false},"axis":{"orient":"bottom","values":[0,1,2,3,4,5,6,7,8,9,10,11,12,13,14,15],"labelExpr":"datum.value % 5 == 0 ? '' + datum.value : ''","tickSize":{"condition":{"test":"datum.value % 5 == 0","value":-5},"value":-2.5},"labelPadding":11,"title":"t","titlePadding":1}},
      "y":{"field":"S","type":"quantitative","scale":{"domain":[0,5.05],"nice":false},"axis":{"orient":"left","values":[0,0.2,0.4,0.6,0.8,1,1.2,1.4,1.6,1.8,2,2.2,2.4,2.6,2.8,3,3.2,3.4,3.6,3.8,4,4.2,4.4,4.6,4.8,5],"labelExpr":"abs(datum.value - round(datum.value)) < 0.01 ? '' + round(datum.value) : ''","tickSize":{"condition":{"test":"abs(datum.value - round(datum.value)) < 0.01","value":-5},"value":-2.5},"labelPadding":4,"title":null}},
      "color":{"field":"L","type":"nominal"}}},
     {"data":{"name":"haar"},"transform":[{"filter":"datum.k == 're'"}],"mark":{"type":"rule","color":"#222","strokeWidth":1.1,"strokeDash":[6,2.5,1.5,2.5]},"encoding":{"y":{"field":"H","type":"quantitative","scale":{"domain":[0,5.05],"nice":false},"axis":null}}},
     {"data":{"name":"g"},"mark":{"type":"point","filled":false,"size":48,"strokeWidth":1.4,"opacity":1},"encoding":{
      "x":{"field":"t","type":"quantitative","scale":{"domain":[0,15],"nice":false},"axis":{"orient":"top","values":[0,1,2,3,4,5,6,7,8,9,10,11,12,13,14,15],"labels":false,"tickSize":{"condition":{"test":"datum.value % 5 == 0","value":-5},"value":-2.5},"title":null}},
      "y":{"field":"S","type":"quantitative","scale":{"domain":[0,5.05],"nice":false},"axis":{"orient":"right","values":[0,0.2,0.4,0.6,0.8,1,1.2,1.4,1.6,1.8,2,2.2,2.4,2.6,2.8,3,3.2,3.4,3.6,3.8,4,4.2,4.4,4.6,4.8,5],"labels":false,"tickSize":{"condition":{"test":"abs(datum.value - round(datum.value)) < 0.01","value":-5},"value":-2.5},"title":null}},
      "stroke":{"field":"L","type":"nominal"},"shape":{"field":"L","type":"nominal"},
      "fill":{"condition":{"test":"datum.L == 15","value":"#4DBEEE"},"value":"transparent"}}},
     {"data":{"values":[{}]},"mark":{"type":"text","text":"(g)","align":"left","baseline":"top","dy":3,"font":"Liberation Sans","fontSize":15},"encoding":{"x":{"datum":0.45,"type":"quantitative","axis":null},"y":{"datum":5.05,"type":"quantitative","axis":null}}},
     {"data":{"values":[{}]},"mark":{"type":"text","text":"q = 4","font":"Liberation Serif","fontSize":16},"encoding":{"x":{"datum":9.4,"type":"quantitative","axis":null},"y":{"datum":1.18,"type":"quantitative","axis":null}}}
    ]},
    {"width":201,"height":183,"resolve":{"axis":{"x":"independent","y":"independent"}},"layer":[
     {"data":{"name":"h"},"mark":{"type":"line","strokeWidth":1.5},"encoding":{
      "x":{"field":"t","type":"quantitative","scale":{"domain":[0,15],"nice":false},"axis":{"orient":"bottom","values":[0,1,2,3,4,5,6,7,8,9,10,11,12,13,14,15],"labelExpr":"datum.value % 5 == 0 ? '' + datum.value : ''","tickSize":{"condition":{"test":"datum.value % 5 == 0","value":-5},"value":-2.5},"labelPadding":11,"title":"t","titlePadding":1}},
      "y":{"field":"S","type":"quantitative","scale":{"domain":[0,5.7],"nice":false},"axis":{"orient":"left","values":[0,0.2,0.4,0.6,0.8,1,1.2,1.4,1.6,1.8,2,2.2,2.4,2.6,2.8,3,3.2,3.4,3.6,3.8,4,4.2,4.4,4.6,4.8,5,5.2,5.4,5.6],"labelExpr":"abs(datum.value - round(datum.value)) < 0.01 ? '' + round(datum.value) : ''","tickSize":{"condition":{"test":"abs(datum.value - round(datum.value)) < 0.01","value":-5},"value":-2.5},"labelPadding":4,"title":null}},
      "color":{"field":"L","type":"nominal"}}},
     {"data":{"name":"haar"},"transform":[{"filter":"datum.k == 'ro'"}],"mark":{"type":"rule","color":"#222","strokeWidth":1.1,"strokeDash":[6,2.5,1.5,2.5]},"encoding":{"y":{"field":"H","type":"quantitative","scale":{"domain":[0,5.7],"nice":false},"axis":null}}},
     {"data":{"name":"h"},"mark":{"type":"point","filled":false,"size":48,"strokeWidth":1.4,"opacity":1},"encoding":{
      "x":{"field":"t","type":"quantitative","scale":{"domain":[0,15],"nice":false},"axis":{"orient":"top","values":[0,1,2,3,4,5,6,7,8,9,10,11,12,13,14,15],"labels":false,"tickSize":{"condition":{"test":"datum.value % 5 == 0","value":-5},"value":-2.5},"title":null}},
      "y":{"field":"S","type":"quantitative","scale":{"domain":[0,5.7],"nice":false},"axis":{"orient":"right","values":[0,0.2,0.4,0.6,0.8,1,1.2,1.4,1.6,1.8,2,2.2,2.4,2.6,2.8,3,3.2,3.4,3.6,3.8,4,4.2,4.4,4.6,4.8,5,5.2,5.4,5.6],"labels":false,"tickSize":{"condition":{"test":"abs(datum.value - round(datum.value)) < 0.01","value":-5},"value":-2.5},"title":null}},
      "stroke":{"field":"L","type":"nominal"},"shape":{"field":"L","type":"nominal"},
      "fill":{"condition":{"test":"datum.L == 15","value":"#4DBEEE"},"value":"transparent"}}},
     {"data":{"values":[{}]},"mark":{"type":"text","text":"(h)","align":"left","baseline":"top","dy":3,"font":"Liberation Sans","fontSize":15},"encoding":{"x":{"datum":0.45,"type":"quantitative","axis":null},"y":{"datum":5.7,"type":"quantitative","axis":null}}},
     {"data":{"values":[{}]},"mark":{"type":"text","text":"q = 5","font":"Liberation Serif","fontSize":16},"encoding":{"x":{"datum":9.4,"type":"quantitative","axis":null},"y":{"datum":1.44,"type":"quantitative","axis":null}}}
    ]}
  ]
 }]
}]
}
